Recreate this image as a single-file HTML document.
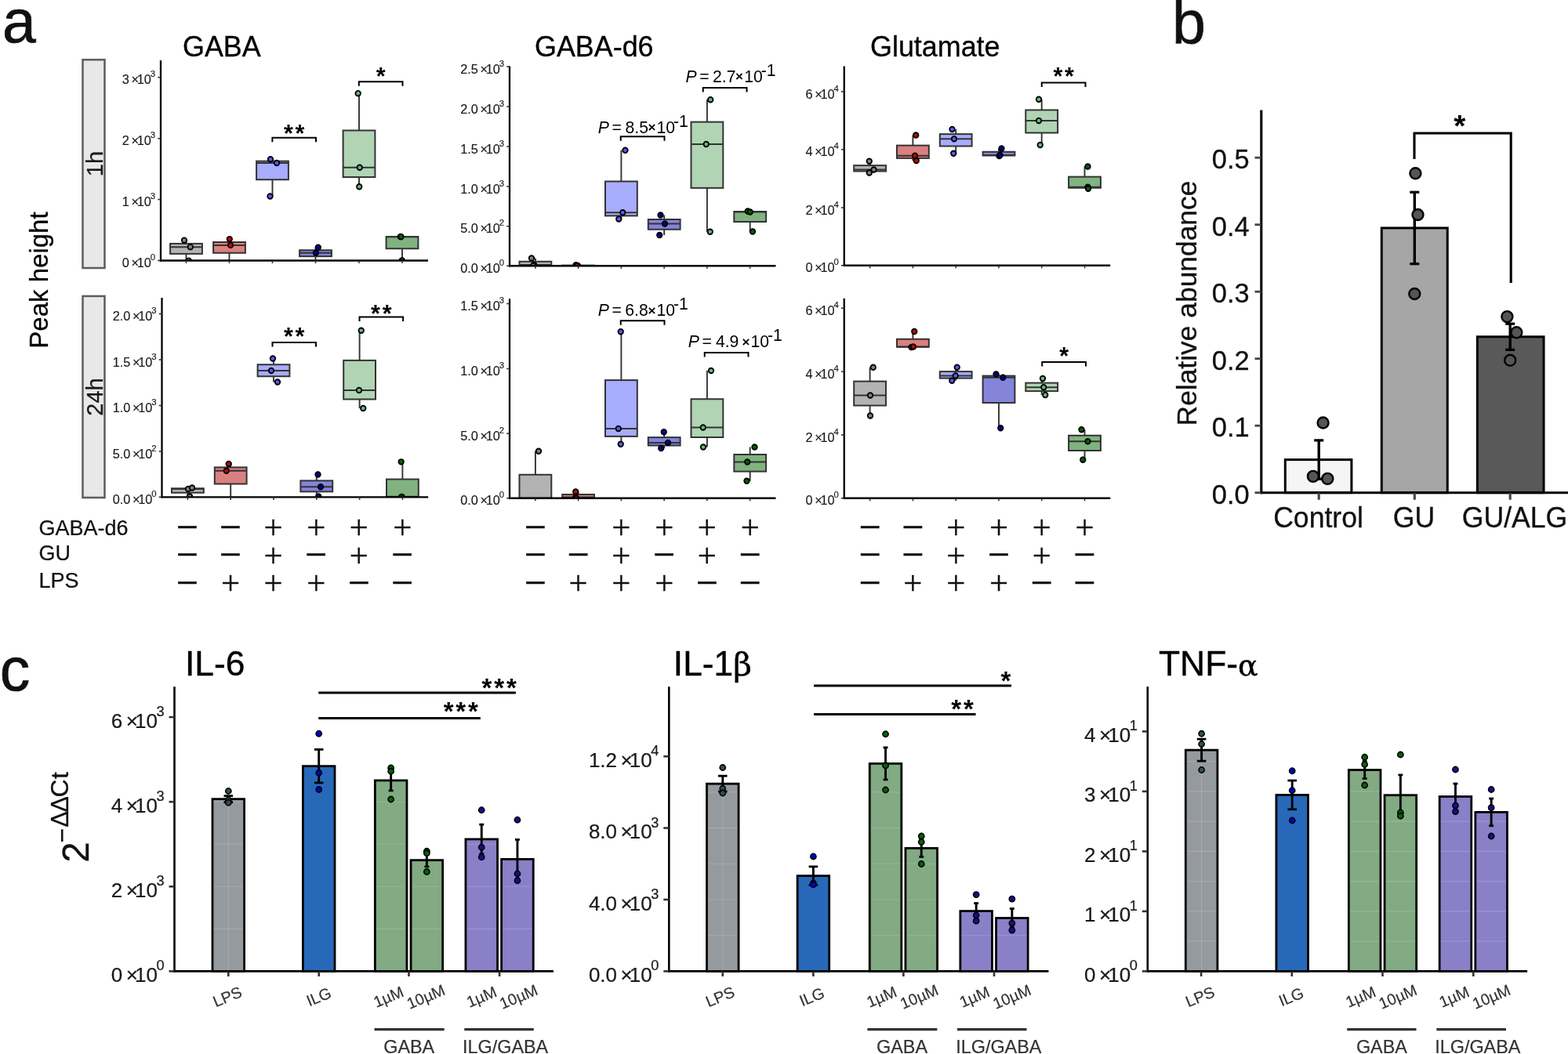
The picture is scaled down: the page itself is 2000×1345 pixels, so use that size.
<!DOCTYPE html><html><head><meta charset="utf-8"><style>html,body{margin:0;padding:0;background:#fff;}svg{display:block;}</style></head><body><svg width="2000" height="1345" viewBox="0 0 2000 1345" font-family="'Liberation Sans', Arial, sans-serif"><defs><clipPath id="c1"><rect x="205" y="37" width="341" height="295.5"/></clipPath><clipPath id="c2"><rect x="206.5" y="340" width="339.7" height="294.3"/></clipPath><clipPath id="c3"><rect x="650" y="44.5" width="339.5" height="294.75"/></clipPath><clipPath id="c4"><rect x="650" y="341.25" width="339.5" height="294.5"/></clipPath><clipPath id="c5"><rect x="1076.75" y="44.5" width="339.5" height="294.25"/></clipPath><clipPath id="c6"><rect x="1076.75" y="340.75" width="339.5" height="295"/></clipPath></defs><rect width="2000" height="1345" fill="#fff"/><g clip-path="url(#c1)"><line x1="237.5" y1="306.6" x2="237.5" y2="310.9" stroke="#333" stroke-width="1.9" stroke-linecap="butt"/><line x1="237.5" y1="323.9" x2="237.5" y2="332.6" stroke="#333" stroke-width="1.9" stroke-linecap="butt"/><rect x="217.1" y="310.9" width="40.8" height="13" fill="#b3b3b3" stroke="#333" stroke-width="2"/><line x1="217.1" y1="315.2" x2="257.9" y2="315.2" stroke="#333" stroke-width="2" stroke-linecap="butt"/><line x1="292.5" y1="305.1" x2="292.5" y2="309" stroke="#333" stroke-width="1.9" stroke-linecap="butt"/><line x1="292.5" y1="322.75" x2="292.5" y2="332.6" stroke="#333" stroke-width="1.9" stroke-linecap="butt"/><rect x="272.1" y="309" width="40.8" height="13.75" fill="#db8080" stroke="#333" stroke-width="2"/><line x1="272.1" y1="312.9" x2="312.9" y2="312.9" stroke="#333" stroke-width="2" stroke-linecap="butt"/><line x1="347.5" y1="203.25" x2="347.5" y2="205.62" stroke="#333" stroke-width="1.9" stroke-linecap="butt"/><line x1="347.5" y1="229.25" x2="347.5" y2="250.5" stroke="#333" stroke-width="1.9" stroke-linecap="butt"/><rect x="327.1" y="205.62" width="40.8" height="23.62" fill="#a8acfc" stroke="#333" stroke-width="2"/><line x1="327.1" y1="208" x2="367.9" y2="208" stroke="#333" stroke-width="2" stroke-linecap="butt"/><line x1="402.5" y1="315.7" x2="402.5" y2="319.25" stroke="#333" stroke-width="1.9" stroke-linecap="butt"/><line x1="402.5" y1="327.15" x2="402.5" y2="331.5" stroke="#333" stroke-width="1.9" stroke-linecap="butt"/><rect x="382.1" y="319.25" width="40.8" height="7.9" fill="#8484da" stroke="#333" stroke-width="2"/><line x1="382.1" y1="322.8" x2="422.9" y2="322.8" stroke="#333" stroke-width="2" stroke-linecap="butt"/><line x1="458" y1="119.2" x2="458" y2="166.47" stroke="#333" stroke-width="1.9" stroke-linecap="butt"/><line x1="458" y1="226" x2="458" y2="238.25" stroke="#333" stroke-width="1.9" stroke-linecap="butt"/><rect x="437.6" y="166.47" width="40.8" height="59.53" fill="#b0d4b4" stroke="#333" stroke-width="2"/><line x1="437.6" y1="213.75" x2="478.4" y2="213.75" stroke="#333" stroke-width="2" stroke-linecap="butt"/><line x1="513" y1="302" x2="513" y2="302.1" stroke="#333" stroke-width="1.9" stroke-linecap="butt"/><line x1="513" y1="317.25" x2="513" y2="332.3" stroke="#333" stroke-width="1.9" stroke-linecap="butt"/><rect x="492.6" y="302.1" width="40.8" height="15.15" fill="#80b380" stroke="#333" stroke-width="2"/><line x1="492.6" y1="302.2" x2="533.4" y2="302.2" stroke="#333" stroke-width="2" stroke-linecap="butt"/><circle cx="235" cy="306.6" r="3.25" fill="#808080" stroke="#000" stroke-width="1.8"/><circle cx="242.8" cy="315.2" r="3.25" fill="#808080" stroke="#000" stroke-width="1.8"/><circle cx="240.8" cy="332.6" r="3.25" fill="#808080" stroke="#000" stroke-width="1.8"/><circle cx="292.8" cy="305.1" r="3.25" fill="#cc0000" stroke="#000" stroke-width="1.8"/><circle cx="294" cy="312.9" r="3.25" fill="#cc0000" stroke="#000" stroke-width="1.8"/><circle cx="345" cy="203.25" r="3.25" fill="#555aff" stroke="#000" stroke-width="1.8"/><circle cx="353" cy="208" r="3.25" fill="#555aff" stroke="#000" stroke-width="1.8"/><circle cx="344.5" cy="250.5" r="3.25" fill="#555aff" stroke="#000" stroke-width="1.8"/><circle cx="405.8" cy="315.7" r="3.25" fill="#0000a0" stroke="#000" stroke-width="1.8"/><circle cx="402.9" cy="322.8" r="3.25" fill="#0000a0" stroke="#000" stroke-width="1.8"/><circle cx="456.7" cy="119.2" r="3.25" fill="#64b978" stroke="#000" stroke-width="1.8"/><circle cx="458.75" cy="213.75" r="3.25" fill="#64b978" stroke="#000" stroke-width="1.8"/><circle cx="458.25" cy="238.25" r="3.25" fill="#64b978" stroke="#000" stroke-width="1.8"/><circle cx="510.8" cy="302" r="3.25" fill="#006400" stroke="#000" stroke-width="1.8"/><circle cx="511.5" cy="302.2" r="3.25" fill="#006400" stroke="#000" stroke-width="1.8"/><circle cx="512.8" cy="332.3" r="3.25" fill="#006400" stroke="#000" stroke-width="1.8"/></g><line x1="205" y1="77" x2="205" y2="333.65" stroke="#000" stroke-width="2.3" stroke-linecap="butt"/><line x1="203.85" y1="332.5" x2="546" y2="332.5" stroke="#000" stroke-width="2.3" stroke-linecap="butt"/><line x1="237.5" y1="332.5" x2="237.5" y2="336.1" stroke="#333" stroke-width="1.6" stroke-linecap="butt"/><line x1="292.5" y1="332.5" x2="292.5" y2="336.1" stroke="#333" stroke-width="1.6" stroke-linecap="butt"/><line x1="347.5" y1="332.5" x2="347.5" y2="336.1" stroke="#333" stroke-width="1.6" stroke-linecap="butt"/><line x1="402.5" y1="332.5" x2="402.5" y2="336.1" stroke="#333" stroke-width="1.6" stroke-linecap="butt"/><line x1="458" y1="332.5" x2="458" y2="336.1" stroke="#333" stroke-width="1.6" stroke-linecap="butt"/><line x1="513" y1="332.5" x2="513" y2="336.1" stroke="#333" stroke-width="1.6" stroke-linecap="butt"/><line x1="201.2" y1="98.75" x2="205" y2="98.75" stroke="#333" stroke-width="1.6" stroke-linecap="butt"/><text x="198.2" y="107.39" font-size="16.3" text-anchor="end" fill="#1a1a1a" stroke="#1a1a1a" stroke-width="0.15" >3<tspan dx="2.77">×</tspan><tspan dx="-2.44">10</tspan><tspan dx="-0.9" dy="-9.13" font-size="11.41">3</tspan></text><line x1="201.2" y1="176.75" x2="205" y2="176.75" stroke="#333" stroke-width="1.6" stroke-linecap="butt"/><text x="198.2" y="185.39" font-size="16.3" text-anchor="end" fill="#1a1a1a" stroke="#1a1a1a" stroke-width="0.15" >2<tspan dx="2.77">×</tspan><tspan dx="-2.44">10</tspan><tspan dx="-0.9" dy="-9.13" font-size="11.41">3</tspan></text><line x1="201.2" y1="254.5" x2="205" y2="254.5" stroke="#333" stroke-width="1.6" stroke-linecap="butt"/><text x="198.2" y="263.14" font-size="16.3" text-anchor="end" fill="#1a1a1a" stroke="#1a1a1a" stroke-width="0.15" >1<tspan dx="2.77">×</tspan><tspan dx="-2.44">10</tspan><tspan dx="-0.9" dy="-9.13" font-size="11.41">3</tspan></text><line x1="201.2" y1="332.5" x2="205" y2="332.5" stroke="#333" stroke-width="1.6" stroke-linecap="butt"/><text x="198.2" y="341.14" font-size="16.3" text-anchor="end" fill="#1a1a1a" stroke="#1a1a1a" stroke-width="0.15" >0<tspan dx="2.77">×</tspan><tspan dx="-2.44">10</tspan><tspan dx="-0.9" dy="-9.13" font-size="11.41">0</tspan></text><path d="M347.4,181.3 V175.8 H403 V181.3" stroke="#000" stroke-width="2" fill="none" stroke-linejoin="miter"/><text x="375.2" y="181.37" font-size="30.5" font-weight="bold" text-anchor="middle">*<tspan dx="2.68">*</tspan></text><path d="M457.8,109.7 V104.2 H513.5 V109.7" stroke="#000" stroke-width="2" fill="none" stroke-linejoin="miter"/><text x="485.65" y="108.47" font-size="30.5" font-weight="bold" text-anchor="middle">*</text><g clip-path="url(#c2)"><line x1="239.4" y1="622.5" x2="239.4" y2="623.25" stroke="#333" stroke-width="1.9" stroke-linecap="butt"/><line x1="239.4" y1="628.75" x2="239.4" y2="633.5" stroke="#333" stroke-width="1.9" stroke-linecap="butt"/><rect x="219" y="623.25" width="40.8" height="5.5" fill="#b3b3b3" stroke="#333" stroke-width="2"/><line x1="219" y1="624" x2="259.8" y2="624" stroke="#333" stroke-width="2" stroke-linecap="butt"/><line x1="294.2" y1="592" x2="294.2" y2="596.38" stroke="#333" stroke-width="1.9" stroke-linecap="butt"/><line x1="294.2" y1="617.52" x2="294.2" y2="634.3" stroke="#333" stroke-width="1.9" stroke-linecap="butt"/><rect x="273.8" y="596.38" width="40.8" height="21.15" fill="#db8080" stroke="#333" stroke-width="2"/><line x1="273.8" y1="600.75" x2="314.6" y2="600.75" stroke="#333" stroke-width="2" stroke-linecap="butt"/><line x1="349" y1="457.5" x2="349" y2="465.25" stroke="#333" stroke-width="1.9" stroke-linecap="butt"/><line x1="349" y1="480.25" x2="349" y2="487.5" stroke="#333" stroke-width="1.9" stroke-linecap="butt"/><rect x="328.6" y="465.25" width="40.8" height="15" fill="#a8acfc" stroke="#333" stroke-width="2"/><line x1="328.6" y1="473" x2="369.4" y2="473" stroke="#333" stroke-width="2" stroke-linecap="butt"/><line x1="403.8" y1="605.5" x2="403.8" y2="613.38" stroke="#333" stroke-width="1.9" stroke-linecap="butt"/><line x1="403.8" y1="627.38" x2="403.8" y2="633.5" stroke="#333" stroke-width="1.9" stroke-linecap="butt"/><rect x="383.4" y="613.38" width="40.8" height="14" fill="#8484da" stroke="#333" stroke-width="2"/><line x1="383.4" y1="621.25" x2="424.2" y2="621.25" stroke="#333" stroke-width="2" stroke-linecap="butt"/><line x1="458.6" y1="421.75" x2="458.6" y2="459.88" stroke="#333" stroke-width="1.9" stroke-linecap="butt"/><line x1="458.6" y1="509.5" x2="458.6" y2="521" stroke="#333" stroke-width="1.9" stroke-linecap="butt"/><rect x="438.2" y="459.88" width="40.8" height="49.62" fill="#b0d4b4" stroke="#333" stroke-width="2"/><line x1="438.2" y1="498" x2="479" y2="498" stroke="#333" stroke-width="2" stroke-linecap="butt"/><line x1="513.4" y1="589.3" x2="513.4" y2="611.55" stroke="#333" stroke-width="1.9" stroke-linecap="butt"/><line x1="513.4" y1="634.15" x2="513.4" y2="634.5" stroke="#333" stroke-width="1.9" stroke-linecap="butt"/><rect x="493" y="611.55" width="40.8" height="22.6" fill="#80b380" stroke="#333" stroke-width="2"/><line x1="493" y1="633.8" x2="533.8" y2="633.8" stroke="#333" stroke-width="2" stroke-linecap="butt"/><circle cx="240" cy="624" r="3.25" fill="#808080" stroke="#000" stroke-width="1.8"/><circle cx="245" cy="622.5" r="3.25" fill="#808080" stroke="#000" stroke-width="1.8"/><circle cx="242" cy="633.5" r="3.25" fill="#808080" stroke="#000" stroke-width="1.8"/><circle cx="291.75" cy="592" r="3.25" fill="#cc0000" stroke="#000" stroke-width="1.8"/><circle cx="288.75" cy="600.75" r="3.25" fill="#cc0000" stroke="#000" stroke-width="1.8"/><circle cx="348" cy="457.5" r="3.25" fill="#555aff" stroke="#000" stroke-width="1.8"/><circle cx="346" cy="473" r="3.25" fill="#555aff" stroke="#000" stroke-width="1.8"/><circle cx="354" cy="487.5" r="3.25" fill="#555aff" stroke="#000" stroke-width="1.8"/><circle cx="405.5" cy="605.5" r="3.25" fill="#0000a0" stroke="#000" stroke-width="1.8"/><circle cx="409" cy="621.25" r="3.25" fill="#0000a0" stroke="#000" stroke-width="1.8"/><circle cx="406.25" cy="633.5" r="3.25" fill="#0000a0" stroke="#000" stroke-width="1.8"/><circle cx="460.75" cy="421.75" r="3.25" fill="#64b978" stroke="#000" stroke-width="1.8"/><circle cx="458" cy="498" r="3.25" fill="#64b978" stroke="#000" stroke-width="1.8"/><circle cx="463.25" cy="521" r="3.25" fill="#64b978" stroke="#000" stroke-width="1.8"/><circle cx="511.7" cy="589.3" r="3.25" fill="#006400" stroke="#000" stroke-width="1.8"/><circle cx="512.4" cy="633.8" r="3.25" fill="#006400" stroke="#000" stroke-width="1.8"/><circle cx="512" cy="634.5" r="3.25" fill="#006400" stroke="#000" stroke-width="1.8"/></g><line x1="206.5" y1="380" x2="206.5" y2="635.45" stroke="#000" stroke-width="2.3" stroke-linecap="butt"/><line x1="205.35" y1="634.3" x2="546.2" y2="634.3" stroke="#000" stroke-width="2.3" stroke-linecap="butt"/><line x1="239.4" y1="634.3" x2="239.4" y2="637.9" stroke="#333" stroke-width="1.6" stroke-linecap="butt"/><line x1="294.2" y1="634.3" x2="294.2" y2="637.9" stroke="#333" stroke-width="1.6" stroke-linecap="butt"/><line x1="349" y1="634.3" x2="349" y2="637.9" stroke="#333" stroke-width="1.6" stroke-linecap="butt"/><line x1="403.8" y1="634.3" x2="403.8" y2="637.9" stroke="#333" stroke-width="1.6" stroke-linecap="butt"/><line x1="458.6" y1="634.3" x2="458.6" y2="637.9" stroke="#333" stroke-width="1.6" stroke-linecap="butt"/><line x1="513.4" y1="634.3" x2="513.4" y2="637.9" stroke="#333" stroke-width="1.6" stroke-linecap="butt"/><line x1="202.7" y1="400.5" x2="206.5" y2="400.5" stroke="#333" stroke-width="1.6" stroke-linecap="butt"/><text x="199.7" y="409.14" font-size="16.3" text-anchor="end" fill="#1a1a1a" stroke="#1a1a1a" stroke-width="0.15" >2.0<tspan dx="2.77">×</tspan><tspan dx="-2.44">10</tspan><tspan dx="-0.9" dy="-9.13" font-size="11.41">3</tspan></text><line x1="202.7" y1="459" x2="206.5" y2="459" stroke="#333" stroke-width="1.6" stroke-linecap="butt"/><text x="199.7" y="467.64" font-size="16.3" text-anchor="end" fill="#1a1a1a" stroke="#1a1a1a" stroke-width="0.15" >1.5<tspan dx="2.77">×</tspan><tspan dx="-2.44">10</tspan><tspan dx="-0.9" dy="-9.13" font-size="11.41">3</tspan></text><line x1="202.7" y1="517.5" x2="206.5" y2="517.5" stroke="#333" stroke-width="1.6" stroke-linecap="butt"/><text x="199.7" y="526.14" font-size="16.3" text-anchor="end" fill="#1a1a1a" stroke="#1a1a1a" stroke-width="0.15" >1.0<tspan dx="2.77">×</tspan><tspan dx="-2.44">10</tspan><tspan dx="-0.9" dy="-9.13" font-size="11.41">3</tspan></text><line x1="202.7" y1="576" x2="206.5" y2="576" stroke="#333" stroke-width="1.6" stroke-linecap="butt"/><text x="199.7" y="584.64" font-size="16.3" text-anchor="end" fill="#1a1a1a" stroke="#1a1a1a" stroke-width="0.15" >5.0<tspan dx="2.77">×</tspan><tspan dx="-2.44">10</tspan><tspan dx="-0.9" dy="-9.13" font-size="11.41">2</tspan></text><line x1="202.7" y1="634.3" x2="206.5" y2="634.3" stroke="#333" stroke-width="1.6" stroke-linecap="butt"/><text x="199.7" y="642.94" font-size="16.3" text-anchor="end" fill="#1a1a1a" stroke="#1a1a1a" stroke-width="0.15" >0.0<tspan dx="2.77">×</tspan><tspan dx="-2.44">10</tspan><tspan dx="-0.9" dy="-9.13" font-size="11.41">0</tspan></text><path d="M347.5,442.5 V437 H403 V442.5" stroke="#000" stroke-width="2" fill="none" stroke-linejoin="miter"/><text x="375.25" y="440.17" font-size="30.5" font-weight="bold" text-anchor="middle">*<tspan dx="2.68">*</tspan></text><path d="M458.5,410 V404.5 H514.1 V410" stroke="#000" stroke-width="2" fill="none" stroke-linejoin="miter"/><text x="486.3" y="410.97" font-size="30.5" font-weight="bold" text-anchor="middle">*<tspan dx="2.68">*</tspan></text><g clip-path="url(#c3)"><line x1="682.9" y1="329.5" x2="682.9" y2="333.75" stroke="#333" stroke-width="1.9" stroke-linecap="butt"/><line x1="682.9" y1="338.6" x2="682.9" y2="339.2" stroke="#333" stroke-width="1.9" stroke-linecap="butt"/><rect x="662.5" y="333.75" width="40.8" height="4.85" fill="#b3b3b3" stroke="#333" stroke-width="2"/><line x1="662.5" y1="338" x2="703.3" y2="338" stroke="#333" stroke-width="2" stroke-linecap="butt"/><line x1="737.6" y1="338.25" x2="737.6" y2="338.62" stroke="#333" stroke-width="1.9" stroke-linecap="butt"/><line x1="737.6" y1="339.1" x2="737.6" y2="339.2" stroke="#333" stroke-width="1.9" stroke-linecap="butt"/><rect x="717.2" y="338.62" width="40.8" height="0.48" fill="#db8080" stroke="#333" stroke-width="2"/><line x1="717.2" y1="339" x2="758" y2="339" stroke="#333" stroke-width="2" stroke-linecap="butt"/><line x1="792.4" y1="191.75" x2="792.4" y2="231.5" stroke="#333" stroke-width="1.9" stroke-linecap="butt"/><line x1="792.4" y1="275.38" x2="792.4" y2="279.5" stroke="#333" stroke-width="1.9" stroke-linecap="butt"/><rect x="772" y="231.5" width="40.8" height="43.88" fill="#a8acfc" stroke="#333" stroke-width="2"/><line x1="772" y1="271.25" x2="812.8" y2="271.25" stroke="#333" stroke-width="2" stroke-linecap="butt"/><line x1="847.2" y1="274.5" x2="847.2" y2="280" stroke="#333" stroke-width="1.9" stroke-linecap="butt"/><line x1="847.2" y1="292.75" x2="847.2" y2="300" stroke="#333" stroke-width="1.9" stroke-linecap="butt"/><rect x="826.8" y="280" width="40.8" height="12.75" fill="#8484da" stroke="#333" stroke-width="2"/><line x1="826.8" y1="285.5" x2="867.6" y2="285.5" stroke="#333" stroke-width="2" stroke-linecap="butt"/><line x1="901.9" y1="127.25" x2="901.9" y2="155.62" stroke="#333" stroke-width="1.9" stroke-linecap="butt"/><line x1="901.9" y1="239.88" x2="901.9" y2="295.75" stroke="#333" stroke-width="1.9" stroke-linecap="butt"/><rect x="881.5" y="155.62" width="40.8" height="84.25" fill="#b0d4b4" stroke="#333" stroke-width="2"/><line x1="881.5" y1="184" x2="922.3" y2="184" stroke="#333" stroke-width="2" stroke-linecap="butt"/><line x1="956.7" y1="269.5" x2="956.7" y2="270" stroke="#333" stroke-width="1.9" stroke-linecap="butt"/><line x1="956.7" y1="283" x2="956.7" y2="295.5" stroke="#333" stroke-width="1.9" stroke-linecap="butt"/><rect x="936.3" y="270" width="40.8" height="13" fill="#80b380" stroke="#333" stroke-width="2"/><line x1="936.3" y1="270.5" x2="977.1" y2="270.5" stroke="#333" stroke-width="2" stroke-linecap="butt"/><circle cx="678" cy="329.5" r="3.25" fill="#808080" stroke="#000" stroke-width="1.8"/><circle cx="681.25" cy="338" r="3.25" fill="#808080" stroke="#000" stroke-width="1.8"/><circle cx="680" cy="339.2" r="3.25" fill="#808080" stroke="#000" stroke-width="1.8"/><circle cx="734.5" cy="338.25" r="3.25" fill="#cc0000" stroke="#000" stroke-width="1.8"/><circle cx="737" cy="339" r="3.25" fill="#cc0000" stroke="#000" stroke-width="1.8"/><circle cx="736" cy="339.2" r="3.25" fill="#cc0000" stroke="#000" stroke-width="1.8"/><circle cx="797.5" cy="191.75" r="3.25" fill="#555aff" stroke="#000" stroke-width="1.8"/><circle cx="794.25" cy="271.25" r="3.25" fill="#555aff" stroke="#000" stroke-width="1.8"/><circle cx="789.25" cy="279.5" r="3.25" fill="#555aff" stroke="#000" stroke-width="1.8"/><circle cx="842.5" cy="274.5" r="3.25" fill="#0000a0" stroke="#000" stroke-width="1.8"/><circle cx="848" cy="285.5" r="3.25" fill="#0000a0" stroke="#000" stroke-width="1.8"/><circle cx="841.25" cy="300" r="3.25" fill="#0000a0" stroke="#000" stroke-width="1.8"/><circle cx="906.25" cy="127.25" r="3.25" fill="#64b978" stroke="#000" stroke-width="1.8"/><circle cx="900.75" cy="184" r="3.25" fill="#64b978" stroke="#000" stroke-width="1.8"/><circle cx="905.75" cy="295.75" r="3.25" fill="#64b978" stroke="#000" stroke-width="1.8"/><circle cx="953.75" cy="269.5" r="3.25" fill="#006400" stroke="#000" stroke-width="1.8"/><circle cx="956.75" cy="270.5" r="3.25" fill="#006400" stroke="#000" stroke-width="1.8"/><circle cx="960" cy="295.5" r="3.25" fill="#006400" stroke="#000" stroke-width="1.8"/></g><line x1="650" y1="84.5" x2="650" y2="340.4" stroke="#000" stroke-width="2.3" stroke-linecap="butt"/><line x1="648.85" y1="339.25" x2="989.5" y2="339.25" stroke="#000" stroke-width="2.3" stroke-linecap="butt"/><line x1="682.9" y1="339.25" x2="682.9" y2="342.85" stroke="#333" stroke-width="1.6" stroke-linecap="butt"/><line x1="737.6" y1="339.25" x2="737.6" y2="342.85" stroke="#333" stroke-width="1.6" stroke-linecap="butt"/><line x1="792.4" y1="339.25" x2="792.4" y2="342.85" stroke="#333" stroke-width="1.6" stroke-linecap="butt"/><line x1="847.2" y1="339.25" x2="847.2" y2="342.85" stroke="#333" stroke-width="1.6" stroke-linecap="butt"/><line x1="901.9" y1="339.25" x2="901.9" y2="342.85" stroke="#333" stroke-width="1.6" stroke-linecap="butt"/><line x1="956.7" y1="339.25" x2="956.7" y2="342.85" stroke="#333" stroke-width="1.6" stroke-linecap="butt"/><line x1="646.2" y1="85" x2="650" y2="85" stroke="#333" stroke-width="1.6" stroke-linecap="butt"/><text x="643.2" y="93.64" font-size="16.3" text-anchor="end" fill="#1a1a1a" stroke="#1a1a1a" stroke-width="0.15" >2.5<tspan dx="2.77">×</tspan><tspan dx="-2.44">10</tspan><tspan dx="-0.9" dy="-9.13" font-size="11.41">3</tspan></text><line x1="646.2" y1="136" x2="650" y2="136" stroke="#333" stroke-width="1.6" stroke-linecap="butt"/><text x="643.2" y="144.64" font-size="16.3" text-anchor="end" fill="#1a1a1a" stroke="#1a1a1a" stroke-width="0.15" >2.0<tspan dx="2.77">×</tspan><tspan dx="-2.44">10</tspan><tspan dx="-0.9" dy="-9.13" font-size="11.41">3</tspan></text><line x1="646.2" y1="187" x2="650" y2="187" stroke="#333" stroke-width="1.6" stroke-linecap="butt"/><text x="643.2" y="195.64" font-size="16.3" text-anchor="end" fill="#1a1a1a" stroke="#1a1a1a" stroke-width="0.15" >1.5<tspan dx="2.77">×</tspan><tspan dx="-2.44">10</tspan><tspan dx="-0.9" dy="-9.13" font-size="11.41">3</tspan></text><line x1="646.2" y1="238" x2="650" y2="238" stroke="#333" stroke-width="1.6" stroke-linecap="butt"/><text x="643.2" y="246.64" font-size="16.3" text-anchor="end" fill="#1a1a1a" stroke="#1a1a1a" stroke-width="0.15" >1.0<tspan dx="2.77">×</tspan><tspan dx="-2.44">10</tspan><tspan dx="-0.9" dy="-9.13" font-size="11.41">3</tspan></text><line x1="646.2" y1="288.75" x2="650" y2="288.75" stroke="#333" stroke-width="1.6" stroke-linecap="butt"/><text x="643.2" y="297.39" font-size="16.3" text-anchor="end" fill="#1a1a1a" stroke="#1a1a1a" stroke-width="0.15" >5.0<tspan dx="2.77">×</tspan><tspan dx="-2.44">10</tspan><tspan dx="-0.9" dy="-9.13" font-size="11.41">2</tspan></text><line x1="646.2" y1="339.25" x2="650" y2="339.25" stroke="#333" stroke-width="1.6" stroke-linecap="butt"/><text x="643.2" y="347.89" font-size="16.3" text-anchor="end" fill="#1a1a1a" stroke="#1a1a1a" stroke-width="0.15" >0.0<tspan dx="2.77">×</tspan><tspan dx="-2.44">10</tspan><tspan dx="-0.9" dy="-9.13" font-size="11.41">0</tspan></text><path d="M791.75,179.8 V174.3 H847.5 V179.8" stroke="#000" stroke-width="2" fill="none" stroke-linejoin="miter"/><text><tspan x="762.84" y="169.7" font-size="21.2" font-style="italic">P</tspan><tspan x="780.46" y="169.7" font-size="21.2" >=</tspan><tspan x="797.49" y="169.7" font-size="21.2" >8.5</tspan><tspan x="826.39" y="168.1" font-size="17" font-weight="bold">×</tspan><tspan x="837.59" y="169.7" font-size="21.2" >10</tspan><tspan x="858.97" y="161.8" font-size="21.2" >-</tspan><tspan x="866.09" y="161.8" font-size="21.2" >1</tspan></text><path d="M896.75,117.5 V112 H952.5 V117.5" stroke="#000" stroke-width="2" fill="none" stroke-linejoin="miter"/><text><tspan x="874.54" y="104.7" font-size="21.2" font-style="italic">P</tspan><tspan x="892.16" y="104.7" font-size="21.2" >=</tspan><tspan x="909.04" y="104.7" font-size="21.2" >2.7</tspan><tspan x="938.09" y="103.1" font-size="17" font-weight="bold">×</tspan><tspan x="949.29" y="104.7" font-size="21.2" >10</tspan><tspan x="970.67" y="96.8" font-size="21.2" >-</tspan><tspan x="977.79" y="96.8" font-size="21.2" >1</tspan></text><g clip-path="url(#c4)"><line x1="682.9" y1="575.75" x2="682.9" y2="605.75" stroke="#333" stroke-width="1.9" stroke-linecap="butt"/><line x1="682.9" y1="635.83" x2="682.9" y2="635.9" stroke="#333" stroke-width="1.9" stroke-linecap="butt"/><rect x="662.5" y="605.75" width="40.8" height="30.08" fill="#b3b3b3" stroke="#333" stroke-width="2"/><line x1="662.5" y1="635.75" x2="703.3" y2="635.75" stroke="#333" stroke-width="2" stroke-linecap="butt"/><line x1="737.6" y1="627.5" x2="737.6" y2="631" stroke="#333" stroke-width="1.9" stroke-linecap="butt"/><line x1="737.6" y1="635.2" x2="737.6" y2="635.9" stroke="#333" stroke-width="1.9" stroke-linecap="butt"/><rect x="717.2" y="631" width="40.8" height="4.2" fill="#db8080" stroke="#333" stroke-width="2"/><line x1="717.2" y1="634.5" x2="758" y2="634.5" stroke="#333" stroke-width="2" stroke-linecap="butt"/><line x1="792.4" y1="423.25" x2="792.4" y2="485.12" stroke="#333" stroke-width="1.9" stroke-linecap="butt"/><line x1="792.4" y1="556.88" x2="792.4" y2="566.75" stroke="#333" stroke-width="1.9" stroke-linecap="butt"/><rect x="772" y="485.12" width="40.8" height="71.75" fill="#a8acfc" stroke="#333" stroke-width="2"/><line x1="772" y1="547" x2="812.8" y2="547" stroke="#333" stroke-width="2" stroke-linecap="butt"/><line x1="847.2" y1="551.25" x2="847.2" y2="558.12" stroke="#333" stroke-width="1.9" stroke-linecap="butt"/><line x1="847.2" y1="568.5" x2="847.2" y2="572" stroke="#333" stroke-width="1.9" stroke-linecap="butt"/><rect x="826.8" y="558.12" width="40.8" height="10.38" fill="#8484da" stroke="#333" stroke-width="2"/><line x1="826.8" y1="565" x2="867.6" y2="565" stroke="#333" stroke-width="2" stroke-linecap="butt"/><line x1="901.9" y1="473" x2="901.9" y2="509.25" stroke="#333" stroke-width="1.9" stroke-linecap="butt"/><line x1="901.9" y1="558" x2="901.9" y2="570.5" stroke="#333" stroke-width="1.9" stroke-linecap="butt"/><rect x="881.5" y="509.25" width="40.8" height="48.75" fill="#b0d4b4" stroke="#333" stroke-width="2"/><line x1="881.5" y1="545.5" x2="922.3" y2="545.5" stroke="#333" stroke-width="2" stroke-linecap="butt"/><line x1="956.7" y1="570.5" x2="956.7" y2="580" stroke="#333" stroke-width="1.9" stroke-linecap="butt"/><line x1="956.7" y1="601.62" x2="956.7" y2="613.75" stroke="#333" stroke-width="1.9" stroke-linecap="butt"/><rect x="936.3" y="580" width="40.8" height="21.62" fill="#80b380" stroke="#333" stroke-width="2"/><line x1="936.3" y1="589.5" x2="977.1" y2="589.5" stroke="#333" stroke-width="2" stroke-linecap="butt"/><circle cx="687" cy="575.75" r="3.25" fill="#808080" stroke="#000" stroke-width="1.8"/><circle cx="734.25" cy="627.5" r="3.25" fill="#cc0000" stroke="#000" stroke-width="1.8"/><circle cx="734.25" cy="634.5" r="3.25" fill="#cc0000" stroke="#000" stroke-width="1.8"/><circle cx="735" cy="635.9" r="3.25" fill="#cc0000" stroke="#000" stroke-width="1.8"/><circle cx="791.75" cy="423.25" r="3.25" fill="#555aff" stroke="#000" stroke-width="1.8"/><circle cx="788.75" cy="547" r="3.25" fill="#555aff" stroke="#000" stroke-width="1.8"/><circle cx="791.75" cy="566.75" r="3.25" fill="#555aff" stroke="#000" stroke-width="1.8"/><circle cx="846.75" cy="551.25" r="3.25" fill="#0000a0" stroke="#000" stroke-width="1.8"/><circle cx="852" cy="565" r="3.25" fill="#0000a0" stroke="#000" stroke-width="1.8"/><circle cx="843.25" cy="572" r="3.25" fill="#0000a0" stroke="#000" stroke-width="1.8"/><circle cx="907" cy="473" r="3.25" fill="#64b978" stroke="#000" stroke-width="1.8"/><circle cx="896.75" cy="545.5" r="3.25" fill="#64b978" stroke="#000" stroke-width="1.8"/><circle cx="897" cy="570.5" r="3.25" fill="#64b978" stroke="#000" stroke-width="1.8"/><circle cx="962.5" cy="570.5" r="3.25" fill="#006400" stroke="#000" stroke-width="1.8"/><circle cx="953.25" cy="589.5" r="3.25" fill="#006400" stroke="#000" stroke-width="1.8"/><circle cx="952.5" cy="613.75" r="3.25" fill="#006400" stroke="#000" stroke-width="1.8"/></g><line x1="650" y1="381.25" x2="650" y2="636.9" stroke="#000" stroke-width="2.3" stroke-linecap="butt"/><line x1="648.85" y1="635.75" x2="989.5" y2="635.75" stroke="#000" stroke-width="2.3" stroke-linecap="butt"/><line x1="682.9" y1="635.75" x2="682.9" y2="639.35" stroke="#333" stroke-width="1.6" stroke-linecap="butt"/><line x1="737.6" y1="635.75" x2="737.6" y2="639.35" stroke="#333" stroke-width="1.6" stroke-linecap="butt"/><line x1="792.4" y1="635.75" x2="792.4" y2="639.35" stroke="#333" stroke-width="1.6" stroke-linecap="butt"/><line x1="847.2" y1="635.75" x2="847.2" y2="639.35" stroke="#333" stroke-width="1.6" stroke-linecap="butt"/><line x1="901.9" y1="635.75" x2="901.9" y2="639.35" stroke="#333" stroke-width="1.6" stroke-linecap="butt"/><line x1="956.7" y1="635.75" x2="956.7" y2="639.35" stroke="#333" stroke-width="1.6" stroke-linecap="butt"/><line x1="646.2" y1="387.5" x2="650" y2="387.5" stroke="#333" stroke-width="1.6" stroke-linecap="butt"/><text x="643.2" y="396.14" font-size="16.3" text-anchor="end" fill="#1a1a1a" stroke="#1a1a1a" stroke-width="0.15" >1.5<tspan dx="2.77">×</tspan><tspan dx="-2.44">10</tspan><tspan dx="-0.9" dy="-9.13" font-size="11.41">3</tspan></text><line x1="646.2" y1="470.5" x2="650" y2="470.5" stroke="#333" stroke-width="1.6" stroke-linecap="butt"/><text x="643.2" y="479.14" font-size="16.3" text-anchor="end" fill="#1a1a1a" stroke="#1a1a1a" stroke-width="0.15" >1.0<tspan dx="2.77">×</tspan><tspan dx="-2.44">10</tspan><tspan dx="-0.9" dy="-9.13" font-size="11.41">3</tspan></text><line x1="646.2" y1="553.25" x2="650" y2="553.25" stroke="#333" stroke-width="1.6" stroke-linecap="butt"/><text x="643.2" y="561.89" font-size="16.3" text-anchor="end" fill="#1a1a1a" stroke="#1a1a1a" stroke-width="0.15" >5.0<tspan dx="2.77">×</tspan><tspan dx="-2.44">10</tspan><tspan dx="-0.9" dy="-9.13" font-size="11.41">2</tspan></text><line x1="646.2" y1="635.75" x2="650" y2="635.75" stroke="#333" stroke-width="1.6" stroke-linecap="butt"/><text x="643.2" y="644.39" font-size="16.3" text-anchor="end" fill="#1a1a1a" stroke="#1a1a1a" stroke-width="0.15" >0.0<tspan dx="2.77">×</tspan><tspan dx="-2.44">10</tspan><tspan dx="-0.9" dy="-9.13" font-size="11.41">0</tspan></text><path d="M791.75,414.75 V409.25 H847.5 V414.75" stroke="#000" stroke-width="2" fill="none" stroke-linejoin="miter"/><text><tspan x="762.84" y="403.3" font-size="21.2" font-style="italic">P</tspan><tspan x="780.46" y="403.3" font-size="21.2" >=</tspan><tspan x="797.32" y="403.3" font-size="21.2" >6.8</tspan><tspan x="826.39" y="401.7" font-size="17" font-weight="bold">×</tspan><tspan x="837.59" y="403.3" font-size="21.2" >10</tspan><tspan x="858.97" y="395.4" font-size="21.2" >-</tspan><tspan x="866.09" y="395.4" font-size="21.2" >1</tspan></text><path d="M898.75,455.5 V450 H954.5 V455.5" stroke="#000" stroke-width="2" fill="none" stroke-linejoin="miter"/><text><tspan x="877.84" y="443.3" font-size="21.2" font-style="italic">P</tspan><tspan x="895.46" y="443.3" font-size="21.2" >=</tspan><tspan x="912.91" y="443.3" font-size="21.2" >4.9</tspan><tspan x="946.39" y="441.7" font-size="17" font-weight="bold">×</tspan><tspan x="957.59" y="443.3" font-size="21.2" >10</tspan><tspan x="978.97" y="435.4" font-size="21.2" >-</tspan><tspan x="986.09" y="435.4" font-size="21.2" >1</tspan></text><g clip-path="url(#c5)"><line x1="1109.6" y1="205.75" x2="1109.6" y2="211.12" stroke="#333" stroke-width="1.9" stroke-linecap="butt"/><line x1="1109.6" y1="218.5" x2="1109.6" y2="220.5" stroke="#333" stroke-width="1.9" stroke-linecap="butt"/><rect x="1089.2" y="211.12" width="40.8" height="7.38" fill="#b3b3b3" stroke="#333" stroke-width="2"/><line x1="1089.2" y1="216.5" x2="1130" y2="216.5" stroke="#333" stroke-width="2" stroke-linecap="butt"/><line x1="1164.4" y1="172.5" x2="1164.4" y2="185.62" stroke="#333" stroke-width="1.9" stroke-linecap="butt"/><line x1="1164.4" y1="201.88" x2="1164.4" y2="205" stroke="#333" stroke-width="1.9" stroke-linecap="butt"/><rect x="1144" y="185.62" width="40.8" height="16.25" fill="#db8080" stroke="#333" stroke-width="2"/><line x1="1144" y1="198.75" x2="1184.8" y2="198.75" stroke="#333" stroke-width="2" stroke-linecap="butt"/><line x1="1219.2" y1="165" x2="1219.2" y2="171.12" stroke="#333" stroke-width="1.9" stroke-linecap="butt"/><line x1="1219.2" y1="186.5" x2="1219.2" y2="195.75" stroke="#333" stroke-width="1.9" stroke-linecap="butt"/><rect x="1198.8" y="171.12" width="40.8" height="15.38" fill="#a8acfc" stroke="#333" stroke-width="2"/><line x1="1198.8" y1="177.25" x2="1239.6" y2="177.25" stroke="#333" stroke-width="2" stroke-linecap="butt"/><line x1="1274" y1="189.5" x2="1274" y2="193.75" stroke="#333" stroke-width="1.9" stroke-linecap="butt"/><line x1="1274" y1="198.5" x2="1274" y2="199" stroke="#333" stroke-width="1.9" stroke-linecap="butt"/><rect x="1253.6" y="193.75" width="40.8" height="4.75" fill="#8484da" stroke="#333" stroke-width="2"/><line x1="1253.6" y1="198" x2="1294.4" y2="198" stroke="#333" stroke-width="2" stroke-linecap="butt"/><line x1="1328.7" y1="126.75" x2="1328.7" y2="140.38" stroke="#333" stroke-width="1.9" stroke-linecap="butt"/><line x1="1328.7" y1="169.5" x2="1328.7" y2="185" stroke="#333" stroke-width="1.9" stroke-linecap="butt"/><rect x="1308.3" y="140.38" width="40.8" height="29.12" fill="#b0d4b4" stroke="#333" stroke-width="2"/><line x1="1308.3" y1="154" x2="1349.1" y2="154" stroke="#333" stroke-width="2" stroke-linecap="butt"/><line x1="1383.5" y1="212.5" x2="1383.5" y2="225.62" stroke="#333" stroke-width="1.9" stroke-linecap="butt"/><line x1="1383.5" y1="239.75" x2="1383.5" y2="240.75" stroke="#333" stroke-width="1.9" stroke-linecap="butt"/><rect x="1363.1" y="225.62" width="40.8" height="14.12" fill="#80b380" stroke="#333" stroke-width="2"/><line x1="1363.1" y1="238.75" x2="1403.9" y2="238.75" stroke="#333" stroke-width="2" stroke-linecap="butt"/><circle cx="1108.75" cy="205.75" r="3.25" fill="#808080" stroke="#000" stroke-width="1.8"/><circle cx="1114.5" cy="216.5" r="3.25" fill="#808080" stroke="#000" stroke-width="1.8"/><circle cx="1108.75" cy="220.5" r="3.25" fill="#808080" stroke="#000" stroke-width="1.8"/><circle cx="1168.25" cy="172.5" r="3.25" fill="#cc0000" stroke="#000" stroke-width="1.8"/><circle cx="1167" cy="198.75" r="3.25" fill="#cc0000" stroke="#000" stroke-width="1.8"/><circle cx="1168.75" cy="205" r="3.25" fill="#cc0000" stroke="#000" stroke-width="1.8"/><circle cx="1214.5" cy="165" r="3.25" fill="#555aff" stroke="#000" stroke-width="1.8"/><circle cx="1217" cy="177.25" r="3.25" fill="#555aff" stroke="#000" stroke-width="1.8"/><circle cx="1216.25" cy="195.75" r="3.25" fill="#555aff" stroke="#000" stroke-width="1.8"/><circle cx="1277.5" cy="189.5" r="3.25" fill="#0000a0" stroke="#000" stroke-width="1.8"/><circle cx="1274.5" cy="199" r="3.25" fill="#0000a0" stroke="#000" stroke-width="1.8"/><circle cx="1275.5" cy="198" r="3.25" fill="#0000a0" stroke="#000" stroke-width="1.8"/><circle cx="1325" cy="126.75" r="3.25" fill="#64b978" stroke="#000" stroke-width="1.8"/><circle cx="1325" cy="154" r="3.25" fill="#64b978" stroke="#000" stroke-width="1.8"/><circle cx="1326.75" cy="185" r="3.25" fill="#64b978" stroke="#000" stroke-width="1.8"/><circle cx="1387.5" cy="212.5" r="3.25" fill="#006400" stroke="#000" stroke-width="1.8"/><circle cx="1387.5" cy="238.75" r="3.25" fill="#006400" stroke="#000" stroke-width="1.8"/><circle cx="1388" cy="240.75" r="3.25" fill="#006400" stroke="#000" stroke-width="1.8"/></g><line x1="1076.75" y1="84.5" x2="1076.75" y2="339.9" stroke="#000" stroke-width="2.3" stroke-linecap="butt"/><line x1="1075.6" y1="338.75" x2="1416.25" y2="338.75" stroke="#000" stroke-width="2.3" stroke-linecap="butt"/><line x1="1109.6" y1="338.75" x2="1109.6" y2="342.35" stroke="#333" stroke-width="1.6" stroke-linecap="butt"/><line x1="1164.4" y1="338.75" x2="1164.4" y2="342.35" stroke="#333" stroke-width="1.6" stroke-linecap="butt"/><line x1="1219.2" y1="338.75" x2="1219.2" y2="342.35" stroke="#333" stroke-width="1.6" stroke-linecap="butt"/><line x1="1274" y1="338.75" x2="1274" y2="342.35" stroke="#333" stroke-width="1.6" stroke-linecap="butt"/><line x1="1328.7" y1="338.75" x2="1328.7" y2="342.35" stroke="#333" stroke-width="1.6" stroke-linecap="butt"/><line x1="1383.5" y1="338.75" x2="1383.5" y2="342.35" stroke="#333" stroke-width="1.6" stroke-linecap="butt"/><line x1="1072.95" y1="117" x2="1076.75" y2="117" stroke="#333" stroke-width="1.6" stroke-linecap="butt"/><text x="1069.95" y="125.64" font-size="16.3" text-anchor="end" fill="#1a1a1a" stroke="#1a1a1a" stroke-width="0.15" >6<tspan dx="2.77">×</tspan><tspan dx="-2.44">10</tspan><tspan dx="-0.9" dy="-9.13" font-size="11.41">4</tspan></text><line x1="1072.95" y1="190.75" x2="1076.75" y2="190.75" stroke="#333" stroke-width="1.6" stroke-linecap="butt"/><text x="1069.95" y="199.39" font-size="16.3" text-anchor="end" fill="#1a1a1a" stroke="#1a1a1a" stroke-width="0.15" >4<tspan dx="2.77">×</tspan><tspan dx="-2.44">10</tspan><tspan dx="-0.9" dy="-9.13" font-size="11.41">4</tspan></text><line x1="1072.95" y1="265" x2="1076.75" y2="265" stroke="#333" stroke-width="1.6" stroke-linecap="butt"/><text x="1069.95" y="273.64" font-size="16.3" text-anchor="end" fill="#1a1a1a" stroke="#1a1a1a" stroke-width="0.15" >2<tspan dx="2.77">×</tspan><tspan dx="-2.44">10</tspan><tspan dx="-0.9" dy="-9.13" font-size="11.41">4</tspan></text><line x1="1072.95" y1="338.75" x2="1076.75" y2="338.75" stroke="#333" stroke-width="1.6" stroke-linecap="butt"/><text x="1069.95" y="347.39" font-size="16.3" text-anchor="end" fill="#1a1a1a" stroke="#1a1a1a" stroke-width="0.15" >0<tspan dx="2.77">×</tspan><tspan dx="-2.44">10</tspan><tspan dx="-0.9" dy="-9.13" font-size="11.41">0</tspan></text><path d="M1328.75,111 V105.5 H1384.5 V111" stroke="#000" stroke-width="2" fill="none" stroke-linejoin="miter"/><text x="1356.62" y="108.42" font-size="30.5" font-weight="bold" text-anchor="middle">*<tspan dx="2.68">*</tspan></text><g clip-path="url(#c6)"><line x1="1109.6" y1="468.75" x2="1109.6" y2="486.62" stroke="#333" stroke-width="1.9" stroke-linecap="butt"/><line x1="1109.6" y1="517.5" x2="1109.6" y2="530.5" stroke="#333" stroke-width="1.9" stroke-linecap="butt"/><rect x="1089.2" y="486.62" width="40.8" height="30.88" fill="#b3b3b3" stroke="#333" stroke-width="2"/><line x1="1089.2" y1="504.5" x2="1130" y2="504.5" stroke="#333" stroke-width="2" stroke-linecap="butt"/><line x1="1164.4" y1="423" x2="1164.4" y2="432.75" stroke="#333" stroke-width="1.9" stroke-linecap="butt"/><line x1="1164.4" y1="442.75" x2="1164.4" y2="443" stroke="#333" stroke-width="1.9" stroke-linecap="butt"/><rect x="1144" y="432.75" width="40.8" height="10" fill="#db8080" stroke="#333" stroke-width="2"/><line x1="1144" y1="442.5" x2="1184.8" y2="442.5" stroke="#333" stroke-width="2" stroke-linecap="butt"/><line x1="1219.2" y1="468.75" x2="1219.2" y2="474.12" stroke="#333" stroke-width="1.9" stroke-linecap="butt"/><line x1="1219.2" y1="482.62" x2="1219.2" y2="485.75" stroke="#333" stroke-width="1.9" stroke-linecap="butt"/><rect x="1198.8" y="474.12" width="40.8" height="8.5" fill="#a8acfc" stroke="#333" stroke-width="2"/><line x1="1198.8" y1="479.5" x2="1239.6" y2="479.5" stroke="#333" stroke-width="2" stroke-linecap="butt"/><line x1="1274" y1="477.5" x2="1274" y2="479.62" stroke="#333" stroke-width="1.9" stroke-linecap="butt"/><line x1="1274" y1="514" x2="1274" y2="546.25" stroke="#333" stroke-width="1.9" stroke-linecap="butt"/><rect x="1253.6" y="479.62" width="40.8" height="34.38" fill="#8484da" stroke="#333" stroke-width="2"/><line x1="1253.6" y1="481.75" x2="1294.4" y2="481.75" stroke="#333" stroke-width="2" stroke-linecap="butt"/><line x1="1328.7" y1="483" x2="1328.7" y2="488.62" stroke="#333" stroke-width="1.9" stroke-linecap="butt"/><line x1="1328.7" y1="499.12" x2="1328.7" y2="504" stroke="#333" stroke-width="1.9" stroke-linecap="butt"/><rect x="1308.3" y="488.62" width="40.8" height="10.5" fill="#b0d4b4" stroke="#333" stroke-width="2"/><line x1="1308.3" y1="494.25" x2="1349.1" y2="494.25" stroke="#333" stroke-width="2" stroke-linecap="butt"/><line x1="1383.5" y1="548.25" x2="1383.5" y2="555.75" stroke="#333" stroke-width="1.9" stroke-linecap="butt"/><line x1="1383.5" y1="575" x2="1383.5" y2="586.75" stroke="#333" stroke-width="1.9" stroke-linecap="butt"/><rect x="1363.1" y="555.75" width="40.8" height="19.25" fill="#80b380" stroke="#333" stroke-width="2"/><line x1="1363.1" y1="563.25" x2="1403.9" y2="563.25" stroke="#333" stroke-width="2" stroke-linecap="butt"/><circle cx="1113.75" cy="468.75" r="3.25" fill="#808080" stroke="#000" stroke-width="1.8"/><circle cx="1110" cy="504.5" r="3.25" fill="#808080" stroke="#000" stroke-width="1.8"/><circle cx="1110" cy="530.5" r="3.25" fill="#808080" stroke="#000" stroke-width="1.8"/><circle cx="1166.25" cy="423" r="3.25" fill="#cc0000" stroke="#000" stroke-width="1.8"/><circle cx="1162.5" cy="443" r="3.25" fill="#cc0000" stroke="#000" stroke-width="1.8"/><circle cx="1165" cy="442.5" r="3.25" fill="#cc0000" stroke="#000" stroke-width="1.8"/><circle cx="1220.75" cy="468.75" r="3.25" fill="#555aff" stroke="#000" stroke-width="1.8"/><circle cx="1218.75" cy="479.5" r="3.25" fill="#555aff" stroke="#000" stroke-width="1.8"/><circle cx="1214.25" cy="485.75" r="3.25" fill="#555aff" stroke="#000" stroke-width="1.8"/><circle cx="1270.5" cy="477.5" r="3.25" fill="#0000a0" stroke="#000" stroke-width="1.8"/><circle cx="1279.25" cy="481.75" r="3.25" fill="#0000a0" stroke="#000" stroke-width="1.8"/><circle cx="1276.25" cy="546.25" r="3.25" fill="#0000a0" stroke="#000" stroke-width="1.8"/><circle cx="1330" cy="483" r="3.25" fill="#64b978" stroke="#000" stroke-width="1.8"/><circle cx="1331.25" cy="494.25" r="3.25" fill="#64b978" stroke="#000" stroke-width="1.8"/><circle cx="1333.25" cy="504" r="3.25" fill="#64b978" stroke="#000" stroke-width="1.8"/><circle cx="1379.5" cy="548.25" r="3.25" fill="#006400" stroke="#000" stroke-width="1.8"/><circle cx="1387.5" cy="563.25" r="3.25" fill="#006400" stroke="#000" stroke-width="1.8"/><circle cx="1381.25" cy="586.75" r="3.25" fill="#006400" stroke="#000" stroke-width="1.8"/></g><line x1="1076.75" y1="380.75" x2="1076.75" y2="636.9" stroke="#000" stroke-width="2.3" stroke-linecap="butt"/><line x1="1075.6" y1="635.75" x2="1416.25" y2="635.75" stroke="#000" stroke-width="2.3" stroke-linecap="butt"/><line x1="1109.6" y1="635.75" x2="1109.6" y2="639.35" stroke="#333" stroke-width="1.6" stroke-linecap="butt"/><line x1="1164.4" y1="635.75" x2="1164.4" y2="639.35" stroke="#333" stroke-width="1.6" stroke-linecap="butt"/><line x1="1219.2" y1="635.75" x2="1219.2" y2="639.35" stroke="#333" stroke-width="1.6" stroke-linecap="butt"/><line x1="1274" y1="635.75" x2="1274" y2="639.35" stroke="#333" stroke-width="1.6" stroke-linecap="butt"/><line x1="1328.7" y1="635.75" x2="1328.7" y2="639.35" stroke="#333" stroke-width="1.6" stroke-linecap="butt"/><line x1="1383.5" y1="635.75" x2="1383.5" y2="639.35" stroke="#333" stroke-width="1.6" stroke-linecap="butt"/><line x1="1072.95" y1="393.25" x2="1076.75" y2="393.25" stroke="#333" stroke-width="1.6" stroke-linecap="butt"/><text x="1069.95" y="401.89" font-size="16.3" text-anchor="end" fill="#1a1a1a" stroke="#1a1a1a" stroke-width="0.15" >6<tspan dx="2.77">×</tspan><tspan dx="-2.44">10</tspan><tspan dx="-0.9" dy="-9.13" font-size="11.41">4</tspan></text><line x1="1072.95" y1="474.25" x2="1076.75" y2="474.25" stroke="#333" stroke-width="1.6" stroke-linecap="butt"/><text x="1069.95" y="482.89" font-size="16.3" text-anchor="end" fill="#1a1a1a" stroke="#1a1a1a" stroke-width="0.15" >4<tspan dx="2.77">×</tspan><tspan dx="-2.44">10</tspan><tspan dx="-0.9" dy="-9.13" font-size="11.41">4</tspan></text><line x1="1072.95" y1="555" x2="1076.75" y2="555" stroke="#333" stroke-width="1.6" stroke-linecap="butt"/><text x="1069.95" y="563.64" font-size="16.3" text-anchor="end" fill="#1a1a1a" stroke="#1a1a1a" stroke-width="0.15" >2<tspan dx="2.77">×</tspan><tspan dx="-2.44">10</tspan><tspan dx="-0.9" dy="-9.13" font-size="11.41">4</tspan></text><line x1="1072.95" y1="635.75" x2="1076.75" y2="635.75" stroke="#333" stroke-width="1.6" stroke-linecap="butt"/><text x="1069.95" y="644.39" font-size="16.3" text-anchor="end" fill="#1a1a1a" stroke="#1a1a1a" stroke-width="0.15" >0<tspan dx="2.77">×</tspan><tspan dx="-2.44">10</tspan><tspan dx="-0.9" dy="-9.13" font-size="11.41">0</tspan></text><path d="M1329.25,467.5 V462 H1385 V467.5" stroke="#000" stroke-width="2" fill="none" stroke-linejoin="miter"/><text x="1357.12" y="465.17" font-size="30.5" font-weight="bold" text-anchor="middle">*</text><rect x="105.5" y="76.2" width="28" height="265.8" fill="#e8e8e8" stroke="#5c5c5c" stroke-width="2.5"/><text transform="translate(130.5,209.1) rotate(-90)" font-size="29" text-anchor="middle" fill="#1a1a1a" stroke="#1a1a1a" stroke-width="0.26">1h</text><rect x="105.5" y="377.9" width="28" height="257.1" fill="#e8e8e8" stroke="#5c5c5c" stroke-width="2.5"/><text transform="translate(130.5,506.45) rotate(-90)" font-size="29" text-anchor="middle" fill="#1a1a1a" stroke="#1a1a1a" stroke-width="0.26">24h</text><text transform="translate(233,72) scale(1,1.04)" font-size="35.9" text-anchor="start" fill="#000" stroke="#000" stroke-width="0.32" >GABA</text><text transform="translate(682,72) scale(1,1.04)" font-size="35.9" text-anchor="start" fill="#000" stroke="#000" stroke-width="0.32" >GABA-d6</text><text transform="translate(1110,72) scale(1,1.04)" font-size="35.9" text-anchor="start" fill="#000" stroke="#000" stroke-width="0.32" >Glutamate</text><text transform="translate(61.4,357.5) rotate(-90)" font-size="33" text-anchor="middle" stroke="#000" stroke-width="0.3">Peak height</text><text x="3" y="54" font-size="77" text-anchor="start" fill="#111" stroke="#111" stroke-width="0.69" >a</text><text x="1495" y="56" font-size="77" text-anchor="start" fill="#111" stroke="#111" stroke-width="0.69" >b</text><text x="-0.3" y="881.1" font-size="77" text-anchor="start" fill="#111" stroke="#111" stroke-width="0.69" >c</text><text transform="translate(49.5,683.2) scale(1,1.04)" font-size="27" text-anchor="start" fill="#111" stroke="#111" stroke-width="0.24" >GABA-d6</text><text x="238.9" y="683.17" font-size="42" text-anchor="middle" fill="#111" stroke="#111" stroke-width="0.38" >–</text><text x="294" y="683.17" font-size="42" text-anchor="middle" fill="#111" stroke="#111" stroke-width="0.38" >–</text><text x="348.6" y="687.3" font-size="42.7" text-anchor="middle" fill="#111" stroke="#111" stroke-width="0.38" font-family="'Liberation Serif', serif">+</text><text x="403.2" y="687.3" font-size="42.7" text-anchor="middle" fill="#111" stroke="#111" stroke-width="0.38" font-family="'Liberation Serif', serif">+</text><text x="457.9" y="687.3" font-size="42.7" text-anchor="middle" fill="#111" stroke="#111" stroke-width="0.38" font-family="'Liberation Serif', serif">+</text><text x="513.3" y="687.3" font-size="42.7" text-anchor="middle" fill="#111" stroke="#111" stroke-width="0.38" font-family="'Liberation Serif', serif">+</text><text x="682.9" y="683.17" font-size="42" text-anchor="middle" fill="#111" stroke="#111" stroke-width="0.38" >–</text><text x="737.6" y="683.17" font-size="42" text-anchor="middle" fill="#111" stroke="#111" stroke-width="0.38" >–</text><text x="792.4" y="687.3" font-size="42.7" text-anchor="middle" fill="#111" stroke="#111" stroke-width="0.38" font-family="'Liberation Serif', serif">+</text><text x="847.2" y="687.3" font-size="42.7" text-anchor="middle" fill="#111" stroke="#111" stroke-width="0.38" font-family="'Liberation Serif', serif">+</text><text x="901.9" y="687.3" font-size="42.7" text-anchor="middle" fill="#111" stroke="#111" stroke-width="0.38" font-family="'Liberation Serif', serif">+</text><text x="956.7" y="687.3" font-size="42.7" text-anchor="middle" fill="#111" stroke="#111" stroke-width="0.38" font-family="'Liberation Serif', serif">+</text><text x="1109.6" y="683.17" font-size="42" text-anchor="middle" fill="#111" stroke="#111" stroke-width="0.38" >–</text><text x="1164.4" y="683.17" font-size="42" text-anchor="middle" fill="#111" stroke="#111" stroke-width="0.38" >–</text><text x="1219.2" y="687.3" font-size="42.7" text-anchor="middle" fill="#111" stroke="#111" stroke-width="0.38" font-family="'Liberation Serif', serif">+</text><text x="1274" y="687.3" font-size="42.7" text-anchor="middle" fill="#111" stroke="#111" stroke-width="0.38" font-family="'Liberation Serif', serif">+</text><text x="1328.7" y="687.3" font-size="42.7" text-anchor="middle" fill="#111" stroke="#111" stroke-width="0.38" font-family="'Liberation Serif', serif">+</text><text x="1383.5" y="687.3" font-size="42.7" text-anchor="middle" fill="#111" stroke="#111" stroke-width="0.38" font-family="'Liberation Serif', serif">+</text><text transform="translate(49.5,715.4) scale(1,1.04)" font-size="27" text-anchor="start" fill="#111" stroke="#111" stroke-width="0.24" >GU</text><text x="238.9" y="718.47" font-size="42" text-anchor="middle" fill="#111" stroke="#111" stroke-width="0.38" >–</text><text x="294" y="718.47" font-size="42" text-anchor="middle" fill="#111" stroke="#111" stroke-width="0.38" >–</text><text x="348.6" y="722.6" font-size="42.7" text-anchor="middle" fill="#111" stroke="#111" stroke-width="0.38" font-family="'Liberation Serif', serif">+</text><text x="403.2" y="718.47" font-size="42" text-anchor="middle" fill="#111" stroke="#111" stroke-width="0.38" >–</text><text x="457.9" y="722.6" font-size="42.7" text-anchor="middle" fill="#111" stroke="#111" stroke-width="0.38" font-family="'Liberation Serif', serif">+</text><text x="513.3" y="718.47" font-size="42" text-anchor="middle" fill="#111" stroke="#111" stroke-width="0.38" >–</text><text x="682.9" y="718.47" font-size="42" text-anchor="middle" fill="#111" stroke="#111" stroke-width="0.38" >–</text><text x="737.6" y="718.47" font-size="42" text-anchor="middle" fill="#111" stroke="#111" stroke-width="0.38" >–</text><text x="792.4" y="722.6" font-size="42.7" text-anchor="middle" fill="#111" stroke="#111" stroke-width="0.38" font-family="'Liberation Serif', serif">+</text><text x="847.2" y="718.47" font-size="42" text-anchor="middle" fill="#111" stroke="#111" stroke-width="0.38" >–</text><text x="901.9" y="722.6" font-size="42.7" text-anchor="middle" fill="#111" stroke="#111" stroke-width="0.38" font-family="'Liberation Serif', serif">+</text><text x="956.7" y="718.47" font-size="42" text-anchor="middle" fill="#111" stroke="#111" stroke-width="0.38" >–</text><text x="1109.6" y="718.47" font-size="42" text-anchor="middle" fill="#111" stroke="#111" stroke-width="0.38" >–</text><text x="1164.4" y="718.47" font-size="42" text-anchor="middle" fill="#111" stroke="#111" stroke-width="0.38" >–</text><text x="1219.2" y="722.6" font-size="42.7" text-anchor="middle" fill="#111" stroke="#111" stroke-width="0.38" font-family="'Liberation Serif', serif">+</text><text x="1274" y="718.47" font-size="42" text-anchor="middle" fill="#111" stroke="#111" stroke-width="0.38" >–</text><text x="1328.7" y="722.6" font-size="42.7" text-anchor="middle" fill="#111" stroke="#111" stroke-width="0.38" font-family="'Liberation Serif', serif">+</text><text x="1383.5" y="718.47" font-size="42" text-anchor="middle" fill="#111" stroke="#111" stroke-width="0.38" >–</text><text transform="translate(49.5,749.9) scale(1,1.04)" font-size="27" text-anchor="start" fill="#111" stroke="#111" stroke-width="0.24" >LPS</text><text x="238.9" y="753.97" font-size="42" text-anchor="middle" fill="#111" stroke="#111" stroke-width="0.38" >–</text><text x="294" y="758.1" font-size="42.7" text-anchor="middle" fill="#111" stroke="#111" stroke-width="0.38" font-family="'Liberation Serif', serif">+</text><text x="348.6" y="758.1" font-size="42.7" text-anchor="middle" fill="#111" stroke="#111" stroke-width="0.38" font-family="'Liberation Serif', serif">+</text><text x="403.2" y="758.1" font-size="42.7" text-anchor="middle" fill="#111" stroke="#111" stroke-width="0.38" font-family="'Liberation Serif', serif">+</text><text x="457.9" y="753.97" font-size="42" text-anchor="middle" fill="#111" stroke="#111" stroke-width="0.38" >–</text><text x="513.3" y="753.97" font-size="42" text-anchor="middle" fill="#111" stroke="#111" stroke-width="0.38" >–</text><text x="682.9" y="753.97" font-size="42" text-anchor="middle" fill="#111" stroke="#111" stroke-width="0.38" >–</text><text x="737.6" y="758.1" font-size="42.7" text-anchor="middle" fill="#111" stroke="#111" stroke-width="0.38" font-family="'Liberation Serif', serif">+</text><text x="792.4" y="758.1" font-size="42.7" text-anchor="middle" fill="#111" stroke="#111" stroke-width="0.38" font-family="'Liberation Serif', serif">+</text><text x="847.2" y="758.1" font-size="42.7" text-anchor="middle" fill="#111" stroke="#111" stroke-width="0.38" font-family="'Liberation Serif', serif">+</text><text x="901.9" y="753.97" font-size="42" text-anchor="middle" fill="#111" stroke="#111" stroke-width="0.38" >–</text><text x="956.7" y="753.97" font-size="42" text-anchor="middle" fill="#111" stroke="#111" stroke-width="0.38" >–</text><text x="1109.6" y="753.97" font-size="42" text-anchor="middle" fill="#111" stroke="#111" stroke-width="0.38" >–</text><text x="1164.4" y="758.1" font-size="42.7" text-anchor="middle" fill="#111" stroke="#111" stroke-width="0.38" font-family="'Liberation Serif', serif">+</text><text x="1219.2" y="758.1" font-size="42.7" text-anchor="middle" fill="#111" stroke="#111" stroke-width="0.38" font-family="'Liberation Serif', serif">+</text><text x="1274" y="758.1" font-size="42.7" text-anchor="middle" fill="#111" stroke="#111" stroke-width="0.38" font-family="'Liberation Serif', serif">+</text><text x="1328.7" y="753.97" font-size="42" text-anchor="middle" fill="#111" stroke="#111" stroke-width="0.38" >–</text><text x="1383.5" y="753.97" font-size="42" text-anchor="middle" fill="#111" stroke="#111" stroke-width="0.38" >–</text><rect x="1639.3" y="586.6" width="84.6" height="42.1" fill="#f5f5f5" stroke="#000" stroke-width="3"/><rect x="1762.25" y="290.95" width="84" height="337.75" fill="#a6a6a6" stroke="#000" stroke-width="3"/><rect x="1884.35" y="429.75" width="84.7" height="198.95" fill="#595959" stroke="#000" stroke-width="3"/><line x1="1682.2" y1="561.9" x2="1682.2" y2="611.3" stroke="#000" stroke-width="3.4" stroke-linecap="butt"/><line x1="1676.2" y1="561.9" x2="1688.2" y2="561.9" stroke="#000" stroke-width="3.3" stroke-linecap="butt"/><line x1="1676.2" y1="611.3" x2="1688.2" y2="611.3" stroke="#000" stroke-width="3.3" stroke-linecap="butt"/><line x1="1804.3" y1="245.25" x2="1804.3" y2="336.65" stroke="#000" stroke-width="3.4" stroke-linecap="butt"/><line x1="1798.3" y1="245.25" x2="1810.3" y2="245.25" stroke="#000" stroke-width="3.3" stroke-linecap="butt"/><line x1="1798.3" y1="336.65" x2="1810.3" y2="336.65" stroke="#000" stroke-width="3.3" stroke-linecap="butt"/><line x1="1926.2" y1="413.15" x2="1926.2" y2="446.35" stroke="#000" stroke-width="3.4" stroke-linecap="butt"/><line x1="1920.2" y1="413.15" x2="1932.2" y2="413.15" stroke="#000" stroke-width="3.3" stroke-linecap="butt"/><line x1="1920.2" y1="446.35" x2="1932.2" y2="446.35" stroke="#000" stroke-width="3.3" stroke-linecap="butt"/><circle cx="1687.6" cy="539.5" r="7" fill="#555555" stroke="#000" stroke-width="2.4"/><circle cx="1674.9" cy="607.9" r="7" fill="#555555" stroke="#000" stroke-width="2.4"/><circle cx="1693.3" cy="610.9" r="7" fill="#555555" stroke="#000" stroke-width="2.4"/><circle cx="1805.4" cy="221.2" r="7" fill="#555555" stroke="#000" stroke-width="2.4"/><circle cx="1808.5" cy="274" r="7" fill="#555555" stroke="#000" stroke-width="2.4"/><circle cx="1804.3" cy="375" r="7" fill="#555555" stroke="#000" stroke-width="2.4"/><circle cx="1922.4" cy="404.1" r="7" fill="#555555" stroke="#000" stroke-width="2.4"/><circle cx="1934.3" cy="424.3" r="7" fill="#555555" stroke="#000" stroke-width="2.4"/><circle cx="1926.2" cy="459.8" r="7" fill="#555555" stroke="#000" stroke-width="2.4"/><path d="M1804,203 V170 H1927.2 V361" stroke="#000" stroke-width="3.1" fill="none" stroke-linejoin="miter"/><text x="1861.8" y="173.7" font-size="38.8" font-weight="bold" text-anchor="middle">*</text><line x1="1608.8" y1="140.5" x2="1608.8" y2="630.25" stroke="#000" stroke-width="3.1" stroke-linecap="butt"/><line x1="1607.25" y1="628.7" x2="2000" y2="628.7" stroke="#000" stroke-width="3.1" stroke-linecap="butt"/><line x1="1600.5" y1="628.7" x2="1608.8" y2="628.7" stroke="#444" stroke-width="2.8" stroke-linecap="butt"/><text x="1593.6" y="642.5" font-size="34.4" text-anchor="end" fill="#111" stroke="#111" stroke-width="0.31" >0.0</text><line x1="1600.5" y1="543.2" x2="1608.8" y2="543.2" stroke="#444" stroke-width="2.8" stroke-linecap="butt"/><text x="1593.6" y="557" font-size="34.4" text-anchor="end" fill="#111" stroke="#111" stroke-width="0.31" >0.1</text><line x1="1600.5" y1="457.7" x2="1608.8" y2="457.7" stroke="#444" stroke-width="2.8" stroke-linecap="butt"/><text x="1593.6" y="471.5" font-size="34.4" text-anchor="end" fill="#111" stroke="#111" stroke-width="0.31" >0.2</text><line x1="1600.5" y1="372.2" x2="1608.8" y2="372.2" stroke="#444" stroke-width="2.8" stroke-linecap="butt"/><text x="1593.6" y="386" font-size="34.4" text-anchor="end" fill="#111" stroke="#111" stroke-width="0.31" >0.3</text><line x1="1600.5" y1="286.7" x2="1608.8" y2="286.7" stroke="#444" stroke-width="2.8" stroke-linecap="butt"/><text x="1593.6" y="300.5" font-size="34.4" text-anchor="end" fill="#111" stroke="#111" stroke-width="0.31" >0.4</text><line x1="1600.5" y1="201.2" x2="1608.8" y2="201.2" stroke="#444" stroke-width="2.8" stroke-linecap="butt"/><text x="1593.6" y="215" font-size="34.4" text-anchor="end" fill="#111" stroke="#111" stroke-width="0.31" >0.5</text><line x1="1682.2" y1="628.7" x2="1682.2" y2="637.7" stroke="#444" stroke-width="3.1" stroke-linecap="butt"/><text transform="translate(1681.5,672.7) scale(1,1.02)" font-size="35.6" text-anchor="middle" fill="#111" stroke="#111" stroke-width="0.32" >Control</text><line x1="1804.3" y1="628.7" x2="1804.3" y2="637.7" stroke="#444" stroke-width="3.1" stroke-linecap="butt"/><text transform="translate(1803.5,672.7) scale(1,1.02)" font-size="35.6" text-anchor="middle" fill="#111" stroke="#111" stroke-width="0.32" >GU</text><line x1="1926.2" y1="628.7" x2="1926.2" y2="637.7" stroke="#444" stroke-width="3.1" stroke-linecap="butt"/><text transform="translate(1932,672.7) scale(1,1.02)" font-size="35.6" text-anchor="middle" fill="#111" stroke="#111" stroke-width="0.32" >GU/ALG</text><text transform="translate(1526.1,387) rotate(-90)" font-size="35.4" text-anchor="middle" fill="#111" stroke="#111" stroke-width="0.32">Relative abundance</text><rect x="271" y="1019.65" width="40.6" height="219.75" fill="#959a9e" stroke="none" stroke-width="0"/><line x1="291.3" y1="1020.95" x2="291.3" y2="1238.1" stroke="rgba(255,255,255,0.16)" stroke-width="1.1" stroke-linecap="butt"/><line x1="272.3" y1="1185.35" x2="310.3" y2="1185.35" stroke="rgba(255,255,255,0.16)" stroke-width="1.1" stroke-linecap="butt"/><line x1="272.3" y1="1131.3" x2="310.3" y2="1131.3" stroke="rgba(255,255,255,0.16)" stroke-width="1.1" stroke-linecap="butt"/><line x1="272.3" y1="1077.25" x2="310.3" y2="1077.25" stroke="rgba(255,255,255,0.16)" stroke-width="1.1" stroke-linecap="butt"/><line x1="272.3" y1="1023.2" x2="310.3" y2="1023.2" stroke="rgba(255,255,255,0.16)" stroke-width="1.1" stroke-linecap="butt"/><rect x="271" y="1019.65" width="40.6" height="219.75" fill="none" stroke="#000" stroke-width="2.8"/><rect x="386.4" y="977.65" width="40.6" height="261.75" fill="#2769b8" stroke="none" stroke-width="0"/><rect x="386.4" y="977.65" width="40.6" height="261.75" fill="none" stroke="#000" stroke-width="2.8"/><rect x="478.35" y="995.9" width="40.6" height="243.5" fill="#82aa83" stroke="none" stroke-width="0"/><line x1="479.65" y1="1185.35" x2="517.65" y2="1185.35" stroke="rgba(255,255,255,0.16)" stroke-width="1.1" stroke-linecap="butt"/><line x1="479.65" y1="1131.3" x2="517.65" y2="1131.3" stroke="rgba(255,255,255,0.16)" stroke-width="1.1" stroke-linecap="butt"/><line x1="479.65" y1="1077.25" x2="517.65" y2="1077.25" stroke="rgba(255,255,255,0.16)" stroke-width="1.1" stroke-linecap="butt"/><line x1="479.65" y1="1023.2" x2="517.65" y2="1023.2" stroke="rgba(255,255,255,0.16)" stroke-width="1.1" stroke-linecap="butt"/><rect x="478.35" y="995.9" width="40.6" height="243.5" fill="none" stroke="#000" stroke-width="2.8"/><rect x="524.05" y="1097.65" width="40.6" height="141.75" fill="#82aa83" stroke="none" stroke-width="0"/><line x1="525.35" y1="1185.35" x2="563.35" y2="1185.35" stroke="rgba(255,255,255,0.16)" stroke-width="1.1" stroke-linecap="butt"/><line x1="525.35" y1="1131.3" x2="563.35" y2="1131.3" stroke="rgba(255,255,255,0.16)" stroke-width="1.1" stroke-linecap="butt"/><rect x="524.05" y="1097.65" width="40.6" height="141.75" fill="none" stroke="#000" stroke-width="2.8"/><rect x="593.95" y="1070.9" width="40.6" height="168.5" fill="#8a80c8" stroke="none" stroke-width="0"/><line x1="595.25" y1="1185.35" x2="633.25" y2="1185.35" stroke="rgba(255,255,255,0.16)" stroke-width="1.1" stroke-linecap="butt"/><line x1="595.25" y1="1131.3" x2="633.25" y2="1131.3" stroke="rgba(255,255,255,0.16)" stroke-width="1.1" stroke-linecap="butt"/><line x1="595.25" y1="1077.25" x2="633.25" y2="1077.25" stroke="rgba(255,255,255,0.16)" stroke-width="1.1" stroke-linecap="butt"/><rect x="593.95" y="1070.9" width="40.6" height="168.5" fill="none" stroke="#000" stroke-width="2.8"/><rect x="639.65" y="1096.4" width="40.6" height="143" fill="#8a80c8" stroke="none" stroke-width="0"/><line x1="640.95" y1="1185.35" x2="678.95" y2="1185.35" stroke="rgba(255,255,255,0.16)" stroke-width="1.1" stroke-linecap="butt"/><line x1="640.95" y1="1131.3" x2="678.95" y2="1131.3" stroke="rgba(255,255,255,0.16)" stroke-width="1.1" stroke-linecap="butt"/><rect x="639.65" y="1096.4" width="40.6" height="143" fill="none" stroke="#000" stroke-width="2.8"/><line x1="291.3" y1="1015.65" x2="291.3" y2="1023.65" stroke="#000" stroke-width="2.9" stroke-linecap="butt"/><line x1="285.5" y1="1015.65" x2="297.1" y2="1015.65" stroke="#000" stroke-width="2.8" stroke-linecap="butt"/><line x1="285.5" y1="1023.65" x2="297.1" y2="1023.65" stroke="#000" stroke-width="2.8" stroke-linecap="butt"/><line x1="406.7" y1="956.4" x2="406.7" y2="998.9" stroke="#000" stroke-width="2.9" stroke-linecap="butt"/><line x1="400.9" y1="956.4" x2="412.5" y2="956.4" stroke="#000" stroke-width="2.8" stroke-linecap="butt"/><line x1="400.9" y1="998.9" x2="412.5" y2="998.9" stroke="#000" stroke-width="2.8" stroke-linecap="butt"/><line x1="498.65" y1="982.9" x2="498.65" y2="1008.9" stroke="#000" stroke-width="2.9" stroke-linecap="butt"/><line x1="495.7" y1="982.9" x2="501.6" y2="982.9" stroke="#000" stroke-width="2.8" stroke-linecap="butt"/><line x1="495.7" y1="1008.9" x2="501.6" y2="1008.9" stroke="#000" stroke-width="2.8" stroke-linecap="butt"/><line x1="544.35" y1="1089.4" x2="544.35" y2="1105.9" stroke="#000" stroke-width="2.9" stroke-linecap="butt"/><line x1="541.4" y1="1089.4" x2="547.3" y2="1089.4" stroke="#000" stroke-width="2.8" stroke-linecap="butt"/><line x1="541.4" y1="1105.9" x2="547.3" y2="1105.9" stroke="#000" stroke-width="2.8" stroke-linecap="butt"/><line x1="614.25" y1="1052.15" x2="614.25" y2="1089.65" stroke="#000" stroke-width="2.9" stroke-linecap="butt"/><line x1="611.3" y1="1052.15" x2="617.2" y2="1052.15" stroke="#000" stroke-width="2.8" stroke-linecap="butt"/><line x1="611.3" y1="1089.65" x2="617.2" y2="1089.65" stroke="#000" stroke-width="2.8" stroke-linecap="butt"/><line x1="659.95" y1="1071.4" x2="659.95" y2="1121.4" stroke="#000" stroke-width="2.9" stroke-linecap="butt"/><line x1="657" y1="1071.4" x2="662.9" y2="1071.4" stroke="#000" stroke-width="2.8" stroke-linecap="butt"/><line x1="657" y1="1121.4" x2="662.9" y2="1121.4" stroke="#000" stroke-width="2.8" stroke-linecap="butt"/><circle cx="291.3" cy="1009.5" r="3.6" fill="#2f4f4f" stroke="#000" stroke-width="1.6"/><circle cx="291.3" cy="1021" r="3.6" fill="#2f4f4f" stroke="#000" stroke-width="1.6"/><circle cx="291.3" cy="1024.25" r="3.6" fill="#2f4f4f" stroke="#000" stroke-width="1.6"/><circle cx="406.7" cy="936.25" r="3.6" fill="#0000cd" stroke="#000" stroke-width="1.6"/><circle cx="406.7" cy="986.25" r="3.6" fill="#0000cd" stroke="#000" stroke-width="1.6"/><circle cx="406.7" cy="1007.5" r="3.6" fill="#0000cd" stroke="#000" stroke-width="1.6"/><circle cx="498.65" cy="980" r="3.6" fill="#006400" stroke="#000" stroke-width="1.6"/><circle cx="498.65" cy="984.25" r="3.6" fill="#006400" stroke="#000" stroke-width="1.6"/><circle cx="498.65" cy="1020" r="3.6" fill="#006400" stroke="#000" stroke-width="1.6"/><circle cx="544.35" cy="1086.25" r="3.6" fill="#006400" stroke="#000" stroke-width="1.6"/><circle cx="544.35" cy="1088.75" r="3.6" fill="#006400" stroke="#000" stroke-width="1.6"/><circle cx="544.35" cy="1112.5" r="3.6" fill="#006400" stroke="#000" stroke-width="1.6"/><circle cx="614.25" cy="1033.75" r="3.6" fill="#1c0a96" stroke="#000" stroke-width="1.6"/><circle cx="614.25" cy="1081.25" r="3.6" fill="#1c0a96" stroke="#000" stroke-width="1.6"/><circle cx="614.25" cy="1093.75" r="3.6" fill="#1c0a96" stroke="#000" stroke-width="1.6"/><circle cx="659.95" cy="1046.25" r="3.6" fill="#1c0a96" stroke="#000" stroke-width="1.6"/><circle cx="659.95" cy="1115" r="3.6" fill="#1c0a96" stroke="#000" stroke-width="1.6"/><circle cx="659.95" cy="1123.75" r="3.6" fill="#1c0a96" stroke="#000" stroke-width="1.6"/><line x1="222.5" y1="876.25" x2="222.5" y2="1240.8" stroke="#000" stroke-width="2.6" stroke-linecap="butt"/><line x1="221.2" y1="1239.4" x2="706" y2="1239.4" stroke="#000" stroke-width="2.8" stroke-linecap="butt"/><line x1="215.5" y1="1239.4" x2="222.5" y2="1239.4" stroke="#333" stroke-width="2.6" stroke-linecap="butt"/><text x="209.6" y="1252.92" font-size="26" text-anchor="end" fill="#1a1a1a" stroke="#1a1a1a" stroke-width="0.23" >0<tspan dx="4.42">×</tspan><tspan dx="-3.9">10</tspan><tspan dx="-1.43" dy="-14.56" font-size="18.2">0</tspan></text><line x1="215.5" y1="1131.3" x2="222.5" y2="1131.3" stroke="#333" stroke-width="2.6" stroke-linecap="butt"/><text x="209.6" y="1144.82" font-size="26" text-anchor="end" fill="#1a1a1a" stroke="#1a1a1a" stroke-width="0.23" >2<tspan dx="4.42">×</tspan><tspan dx="-3.9">10</tspan><tspan dx="-1.43" dy="-14.56" font-size="18.2">3</tspan></text><line x1="215.5" y1="1023.2" x2="222.5" y2="1023.2" stroke="#333" stroke-width="2.6" stroke-linecap="butt"/><text x="209.6" y="1036.72" font-size="26" text-anchor="end" fill="#1a1a1a" stroke="#1a1a1a" stroke-width="0.23" >4<tspan dx="4.42">×</tspan><tspan dx="-3.9">10</tspan><tspan dx="-1.43" dy="-14.56" font-size="18.2">3</tspan></text><line x1="215.5" y1="915.1" x2="222.5" y2="915.1" stroke="#333" stroke-width="2.6" stroke-linecap="butt"/><text x="209.6" y="928.62" font-size="26" text-anchor="end" fill="#1a1a1a" stroke="#1a1a1a" stroke-width="0.23" >6<tspan dx="4.42">×</tspan><tspan dx="-3.9">10</tspan><tspan dx="-1.43" dy="-14.56" font-size="18.2">3</tspan></text><line x1="291.3" y1="1239.4" x2="291.3" y2="1246" stroke="#333" stroke-width="2.6" stroke-linecap="butt"/><line x1="406.7" y1="1239.4" x2="406.7" y2="1246" stroke="#333" stroke-width="2.6" stroke-linecap="butt"/><line x1="521.5" y1="1239.4" x2="521.5" y2="1246" stroke="#333" stroke-width="2.6" stroke-linecap="butt"/><line x1="637.1" y1="1239.4" x2="637.1" y2="1246" stroke="#333" stroke-width="2.6" stroke-linecap="butt"/><line x1="406.25" y1="884.1" x2="657.9" y2="884.1" stroke="#000" stroke-width="3" stroke-linecap="butt"/><text x="658.87" y="888.66" font-size="33" font-weight="bold" text-anchor="end">*<tspan dx="2.9">*</tspan><tspan dx="2.9">*</tspan></text><line x1="406.25" y1="916.4" x2="612.8" y2="916.4" stroke="#000" stroke-width="3" stroke-linecap="butt"/><text x="609.96" y="919.46" font-size="33" font-weight="bold" text-anchor="end">*<tspan dx="2.9">*</tspan><tspan dx="2.9">*</tspan></text><text x="235.9" y="861.7" font-size="44.4" text-anchor="start" fill="#000" stroke="#000" stroke-width="0.4" >IL-6</text><line x1="477.5" y1="1313.6" x2="566.7" y2="1313.6" stroke="#333" stroke-width="3.1" stroke-linecap="butt"/><text transform="translate(521.7,1343.5) scale(1,1.04)" font-size="23.4" text-anchor="middle" fill="#333" stroke="#333" stroke-width="0.21" >GABA</text><line x1="592.3" y1="1313.6" x2="680.8" y2="1313.6" stroke="#333" stroke-width="3.1" stroke-linecap="butt"/><text transform="translate(644.6,1343.5) scale(1,1.04)" font-size="23.4" text-anchor="middle" fill="#333" stroke="#333" stroke-width="0.21" >ILG/GABA</text><text transform="translate(292.63,1278.36) rotate(-22.5)" font-size="20" text-anchor="middle" fill="#333" stroke="#333" stroke-width="0.18">LPS</text><text transform="translate(409.33,1278.36) rotate(-22.5)" font-size="20" text-anchor="middle" fill="#333" stroke="#333" stroke-width="0.18">ILG</text><text transform="translate(498.13,1278.36) rotate(-22.5)" font-size="20" text-anchor="middle" fill="#333" stroke="#333" stroke-width="0.18">1µM</text><text transform="translate(545.88,1278.36) rotate(-22.5)" font-size="20" text-anchor="middle" fill="#333" stroke="#333" stroke-width="0.18">10µM</text><text transform="translate(616.93,1278.36) rotate(-22.5)" font-size="20" text-anchor="middle" fill="#333" stroke="#333" stroke-width="0.18">1µM</text><text transform="translate(664.13,1278.36) rotate(-22.5)" font-size="20" text-anchor="middle" fill="#333" stroke="#333" stroke-width="0.18">10µM</text><rect x="901.5" y="1000.15" width="40.6" height="239.25" fill="#959a9e" stroke="none" stroke-width="0"/><line x1="921.8" y1="1001.45" x2="921.8" y2="1238.1" stroke="rgba(255,255,255,0.16)" stroke-width="1.1" stroke-linecap="butt"/><line x1="902.8" y1="1193.7" x2="940.8" y2="1193.7" stroke="rgba(255,255,255,0.16)" stroke-width="1.1" stroke-linecap="butt"/><line x1="902.8" y1="1148" x2="940.8" y2="1148" stroke="rgba(255,255,255,0.16)" stroke-width="1.1" stroke-linecap="butt"/><line x1="902.8" y1="1102.3" x2="940.8" y2="1102.3" stroke="rgba(255,255,255,0.16)" stroke-width="1.1" stroke-linecap="butt"/><line x1="902.8" y1="1056.6" x2="940.8" y2="1056.6" stroke="rgba(255,255,255,0.16)" stroke-width="1.1" stroke-linecap="butt"/><line x1="902.8" y1="1010.9" x2="940.8" y2="1010.9" stroke="rgba(255,255,255,0.16)" stroke-width="1.1" stroke-linecap="butt"/><rect x="901.5" y="1000.15" width="40.6" height="239.25" fill="none" stroke="#000" stroke-width="2.8"/><rect x="1017.1" y="1117.65" width="40.6" height="121.75" fill="#2769b8" stroke="none" stroke-width="0"/><rect x="1017.1" y="1117.65" width="40.6" height="121.75" fill="none" stroke="#000" stroke-width="2.8"/><rect x="1109.25" y="974.4" width="40.6" height="265" fill="#82aa83" stroke="none" stroke-width="0"/><line x1="1110.55" y1="1193.7" x2="1148.55" y2="1193.7" stroke="rgba(255,255,255,0.16)" stroke-width="1.1" stroke-linecap="butt"/><line x1="1110.55" y1="1148" x2="1148.55" y2="1148" stroke="rgba(255,255,255,0.16)" stroke-width="1.1" stroke-linecap="butt"/><line x1="1110.55" y1="1102.3" x2="1148.55" y2="1102.3" stroke="rgba(255,255,255,0.16)" stroke-width="1.1" stroke-linecap="butt"/><line x1="1110.55" y1="1056.6" x2="1148.55" y2="1056.6" stroke="rgba(255,255,255,0.16)" stroke-width="1.1" stroke-linecap="butt"/><line x1="1110.55" y1="1010.9" x2="1148.55" y2="1010.9" stroke="rgba(255,255,255,0.16)" stroke-width="1.1" stroke-linecap="butt"/><rect x="1109.25" y="974.4" width="40.6" height="265" fill="none" stroke="#000" stroke-width="2.8"/><rect x="1154.95" y="1082.4" width="40.6" height="157" fill="#82aa83" stroke="none" stroke-width="0"/><line x1="1156.25" y1="1193.7" x2="1194.25" y2="1193.7" stroke="rgba(255,255,255,0.16)" stroke-width="1.1" stroke-linecap="butt"/><line x1="1156.25" y1="1148" x2="1194.25" y2="1148" stroke="rgba(255,255,255,0.16)" stroke-width="1.1" stroke-linecap="butt"/><line x1="1156.25" y1="1102.3" x2="1194.25" y2="1102.3" stroke="rgba(255,255,255,0.16)" stroke-width="1.1" stroke-linecap="butt"/><rect x="1154.95" y="1082.4" width="40.6" height="157" fill="none" stroke="#000" stroke-width="2.8"/><rect x="1224.85" y="1162.6" width="40.6" height="76.8" fill="#8a80c8" stroke="none" stroke-width="0"/><line x1="1226.15" y1="1193.7" x2="1264.15" y2="1193.7" stroke="rgba(255,255,255,0.16)" stroke-width="1.1" stroke-linecap="butt"/><rect x="1224.85" y="1162.6" width="40.6" height="76.8" fill="none" stroke="#000" stroke-width="2.8"/><rect x="1270.55" y="1171.5" width="40.6" height="67.9" fill="#8a80c8" stroke="none" stroke-width="0"/><line x1="1271.85" y1="1193.7" x2="1309.85" y2="1193.7" stroke="rgba(255,255,255,0.16)" stroke-width="1.1" stroke-linecap="butt"/><rect x="1270.55" y="1171.5" width="40.6" height="67.9" fill="none" stroke="#000" stroke-width="2.8"/><line x1="921.8" y1="990.15" x2="921.8" y2="1010.15" stroke="#000" stroke-width="2.9" stroke-linecap="butt"/><line x1="916" y1="990.15" x2="927.6" y2="990.15" stroke="#000" stroke-width="2.8" stroke-linecap="butt"/><line x1="916" y1="1010.15" x2="927.6" y2="1010.15" stroke="#000" stroke-width="2.8" stroke-linecap="butt"/><line x1="1037.4" y1="1105.9" x2="1037.4" y2="1129.4" stroke="#000" stroke-width="2.9" stroke-linecap="butt"/><line x1="1031.6" y1="1105.9" x2="1043.2" y2="1105.9" stroke="#000" stroke-width="2.8" stroke-linecap="butt"/><line x1="1031.6" y1="1129.4" x2="1043.2" y2="1129.4" stroke="#000" stroke-width="2.8" stroke-linecap="butt"/><line x1="1129.55" y1="953.9" x2="1129.55" y2="994.9" stroke="#000" stroke-width="2.9" stroke-linecap="butt"/><line x1="1126.6" y1="953.9" x2="1132.5" y2="953.9" stroke="#000" stroke-width="2.8" stroke-linecap="butt"/><line x1="1126.6" y1="994.9" x2="1132.5" y2="994.9" stroke="#000" stroke-width="2.8" stroke-linecap="butt"/><line x1="1175.25" y1="1071.4" x2="1175.25" y2="1093.4" stroke="#000" stroke-width="2.9" stroke-linecap="butt"/><line x1="1172.3" y1="1071.4" x2="1178.2" y2="1071.4" stroke="#000" stroke-width="2.8" stroke-linecap="butt"/><line x1="1172.3" y1="1093.4" x2="1178.2" y2="1093.4" stroke="#000" stroke-width="2.8" stroke-linecap="butt"/><line x1="1245.15" y1="1152.6" x2="1245.15" y2="1172.6" stroke="#000" stroke-width="2.9" stroke-linecap="butt"/><line x1="1242.2" y1="1152.6" x2="1248.1" y2="1152.6" stroke="#000" stroke-width="2.8" stroke-linecap="butt"/><line x1="1242.2" y1="1172.6" x2="1248.1" y2="1172.6" stroke="#000" stroke-width="2.8" stroke-linecap="butt"/><line x1="1290.85" y1="1159.5" x2="1290.85" y2="1183.5" stroke="#000" stroke-width="2.9" stroke-linecap="butt"/><line x1="1287.9" y1="1159.5" x2="1293.8" y2="1159.5" stroke="#000" stroke-width="2.8" stroke-linecap="butt"/><line x1="1287.9" y1="1183.5" x2="1293.8" y2="1183.5" stroke="#000" stroke-width="2.8" stroke-linecap="butt"/><circle cx="921.8" cy="979.5" r="3.6" fill="#2f4f4f" stroke="#000" stroke-width="1.6"/><circle cx="921.8" cy="1006.25" r="3.6" fill="#2f4f4f" stroke="#000" stroke-width="1.6"/><circle cx="921.8" cy="1012" r="3.6" fill="#2f4f4f" stroke="#000" stroke-width="1.6"/><circle cx="1037.4" cy="1093" r="3.6" fill="#0000cd" stroke="#000" stroke-width="1.6"/><circle cx="1037.4" cy="1127" r="3.6" fill="#0000cd" stroke="#000" stroke-width="1.6"/><circle cx="1037.4" cy="1128.75" r="3.6" fill="#0000cd" stroke="#000" stroke-width="1.6"/><circle cx="1129.55" cy="936.75" r="3.6" fill="#006400" stroke="#000" stroke-width="1.6"/><circle cx="1129.55" cy="977" r="3.6" fill="#006400" stroke="#000" stroke-width="1.6"/><circle cx="1129.55" cy="1008" r="3.6" fill="#006400" stroke="#000" stroke-width="1.6"/><circle cx="1175.25" cy="1067" r="3.6" fill="#006400" stroke="#000" stroke-width="1.6"/><circle cx="1175.25" cy="1074.5" r="3.6" fill="#006400" stroke="#000" stroke-width="1.6"/><circle cx="1175.25" cy="1102.5" r="3.6" fill="#006400" stroke="#000" stroke-width="1.6"/><circle cx="1245.15" cy="1141.6" r="3.6" fill="#1c0a96" stroke="#000" stroke-width="1.6"/><circle cx="1245.15" cy="1168" r="3.6" fill="#1c0a96" stroke="#000" stroke-width="1.6"/><circle cx="1245.15" cy="1175.2" r="3.6" fill="#1c0a96" stroke="#000" stroke-width="1.6"/><circle cx="1290.85" cy="1147.2" r="3.6" fill="#1c0a96" stroke="#000" stroke-width="1.6"/><circle cx="1290.85" cy="1178.1" r="3.6" fill="#1c0a96" stroke="#000" stroke-width="1.6"/><circle cx="1290.85" cy="1187.1" r="3.6" fill="#1c0a96" stroke="#000" stroke-width="1.6"/><line x1="853.3" y1="876.25" x2="853.3" y2="1240.8" stroke="#000" stroke-width="2.6" stroke-linecap="butt"/><line x1="852" y1="1239.4" x2="1337.5" y2="1239.4" stroke="#000" stroke-width="2.8" stroke-linecap="butt"/><line x1="846.3" y1="1239.4" x2="853.3" y2="1239.4" stroke="#333" stroke-width="2.6" stroke-linecap="butt"/><text x="840.4" y="1252.92" font-size="26" text-anchor="end" fill="#1a1a1a" stroke="#1a1a1a" stroke-width="0.23" >0.0<tspan dx="4.42">×</tspan><tspan dx="-3.9">10</tspan><tspan dx="-1.43" dy="-14.56" font-size="18.2">0</tspan></text><line x1="846.3" y1="1148" x2="853.3" y2="1148" stroke="#333" stroke-width="2.6" stroke-linecap="butt"/><text x="840.4" y="1161.52" font-size="26" text-anchor="end" fill="#1a1a1a" stroke="#1a1a1a" stroke-width="0.23" >4.0<tspan dx="4.42">×</tspan><tspan dx="-3.9">10</tspan><tspan dx="-1.43" dy="-14.56" font-size="18.2">3</tspan></text><line x1="846.3" y1="1056.6" x2="853.3" y2="1056.6" stroke="#333" stroke-width="2.6" stroke-linecap="butt"/><text x="840.4" y="1070.12" font-size="26" text-anchor="end" fill="#1a1a1a" stroke="#1a1a1a" stroke-width="0.23" >8.0<tspan dx="4.42">×</tspan><tspan dx="-3.9">10</tspan><tspan dx="-1.43" dy="-14.56" font-size="18.2">3</tspan></text><line x1="846.3" y1="965.2" x2="853.3" y2="965.2" stroke="#333" stroke-width="2.6" stroke-linecap="butt"/><text x="840.4" y="978.72" font-size="26" text-anchor="end" fill="#1a1a1a" stroke="#1a1a1a" stroke-width="0.23" >1.2<tspan dx="4.42">×</tspan><tspan dx="-3.9">10</tspan><tspan dx="-1.43" dy="-14.56" font-size="18.2">4</tspan></text><line x1="921.8" y1="1239.4" x2="921.8" y2="1246" stroke="#333" stroke-width="2.6" stroke-linecap="butt"/><line x1="1037.4" y1="1239.4" x2="1037.4" y2="1246" stroke="#333" stroke-width="2.6" stroke-linecap="butt"/><line x1="1152.4" y1="1239.4" x2="1152.4" y2="1246" stroke="#333" stroke-width="2.6" stroke-linecap="butt"/><line x1="1268" y1="1239.4" x2="1268" y2="1246" stroke="#333" stroke-width="2.6" stroke-linecap="butt"/><line x1="1038.1" y1="875.1" x2="1290" y2="875.1" stroke="#000" stroke-width="3" stroke-linecap="butt"/><text x="1289.37" y="880.16" font-size="33" font-weight="bold" text-anchor="end">*</text><line x1="1038.1" y1="911.4" x2="1244.5" y2="911.4" stroke="#000" stroke-width="3" stroke-linecap="butt"/><text x="1241.87" y="916.46" font-size="33" font-weight="bold" text-anchor="end">*<tspan dx="2.9">*</tspan></text><text x="858.8" y="861.7" font-size="44.4" text-anchor="start" fill="#000" stroke="#000" stroke-width="0.4" >IL-1<tspan font-family="'DejaVu Serif', serif" font-size="41">β</tspan></text><line x1="1106.4" y1="1313.6" x2="1195.4" y2="1313.6" stroke="#333" stroke-width="3.1" stroke-linecap="butt"/><text transform="translate(1150.5,1343.5) scale(1,1.04)" font-size="23.4" text-anchor="middle" fill="#333" stroke="#333" stroke-width="0.21" >GABA</text><line x1="1221" y1="1313.6" x2="1309.6" y2="1313.6" stroke="#333" stroke-width="3.1" stroke-linecap="butt"/><text transform="translate(1273.8,1343.5) scale(1,1.04)" font-size="23.4" text-anchor="middle" fill="#333" stroke="#333" stroke-width="0.21" >ILG/GABA</text><text transform="translate(921.13,1278.36) rotate(-22.5)" font-size="20" text-anchor="middle" fill="#333" stroke="#333" stroke-width="0.18">LPS</text><text transform="translate(1038.13,1278.36) rotate(-22.5)" font-size="20" text-anchor="middle" fill="#333" stroke="#333" stroke-width="0.18">ILG</text><text transform="translate(1127.13,1278.36) rotate(-22.5)" font-size="20" text-anchor="middle" fill="#333" stroke="#333" stroke-width="0.18">1µM</text><text transform="translate(1175.13,1278.36) rotate(-22.5)" font-size="20" text-anchor="middle" fill="#333" stroke="#333" stroke-width="0.18">10µM</text><text transform="translate(1245.63,1278.36) rotate(-22.5)" font-size="20" text-anchor="middle" fill="#333" stroke="#333" stroke-width="0.18">1µM</text><text transform="translate(1293.33,1278.36) rotate(-22.5)" font-size="20" text-anchor="middle" fill="#333" stroke="#333" stroke-width="0.18">10µM</text><rect x="1512.3" y="957.15" width="40.6" height="282.25" fill="#959a9e" stroke="none" stroke-width="0"/><line x1="1532.6" y1="958.45" x2="1532.6" y2="1238.1" stroke="rgba(255,255,255,0.16)" stroke-width="1.1" stroke-linecap="butt"/><line x1="1513.6" y1="1201.15" x2="1551.6" y2="1201.15" stroke="rgba(255,255,255,0.16)" stroke-width="1.1" stroke-linecap="butt"/><line x1="1513.6" y1="1162.9" x2="1551.6" y2="1162.9" stroke="rgba(255,255,255,0.16)" stroke-width="1.1" stroke-linecap="butt"/><line x1="1513.6" y1="1124.65" x2="1551.6" y2="1124.65" stroke="rgba(255,255,255,0.16)" stroke-width="1.1" stroke-linecap="butt"/><line x1="1513.6" y1="1086.4" x2="1551.6" y2="1086.4" stroke="rgba(255,255,255,0.16)" stroke-width="1.1" stroke-linecap="butt"/><line x1="1513.6" y1="1048.15" x2="1551.6" y2="1048.15" stroke="rgba(255,255,255,0.16)" stroke-width="1.1" stroke-linecap="butt"/><line x1="1513.6" y1="1009.9" x2="1551.6" y2="1009.9" stroke="rgba(255,255,255,0.16)" stroke-width="1.1" stroke-linecap="butt"/><line x1="1513.6" y1="971.65" x2="1551.6" y2="971.65" stroke="rgba(255,255,255,0.16)" stroke-width="1.1" stroke-linecap="butt"/><rect x="1512.3" y="957.15" width="40.6" height="282.25" fill="none" stroke="#000" stroke-width="2.8"/><rect x="1627.9" y="1014.4" width="40.6" height="225" fill="#2769b8" stroke="none" stroke-width="0"/><rect x="1627.9" y="1014.4" width="40.6" height="225" fill="none" stroke="#000" stroke-width="2.8"/><rect x="1720.35" y="982.5" width="40.6" height="256.9" fill="#82aa83" stroke="none" stroke-width="0"/><line x1="1721.65" y1="1201.15" x2="1759.65" y2="1201.15" stroke="rgba(255,255,255,0.16)" stroke-width="1.1" stroke-linecap="butt"/><line x1="1721.65" y1="1162.9" x2="1759.65" y2="1162.9" stroke="rgba(255,255,255,0.16)" stroke-width="1.1" stroke-linecap="butt"/><line x1="1721.65" y1="1124.65" x2="1759.65" y2="1124.65" stroke="rgba(255,255,255,0.16)" stroke-width="1.1" stroke-linecap="butt"/><line x1="1721.65" y1="1086.4" x2="1759.65" y2="1086.4" stroke="rgba(255,255,255,0.16)" stroke-width="1.1" stroke-linecap="butt"/><line x1="1721.65" y1="1048.15" x2="1759.65" y2="1048.15" stroke="rgba(255,255,255,0.16)" stroke-width="1.1" stroke-linecap="butt"/><line x1="1721.65" y1="1009.9" x2="1759.65" y2="1009.9" stroke="rgba(255,255,255,0.16)" stroke-width="1.1" stroke-linecap="butt"/><rect x="1720.35" y="982.5" width="40.6" height="256.9" fill="none" stroke="#000" stroke-width="2.8"/><rect x="1766.05" y="1014.7" width="40.6" height="224.7" fill="#82aa83" stroke="none" stroke-width="0"/><line x1="1767.35" y1="1201.15" x2="1805.35" y2="1201.15" stroke="rgba(255,255,255,0.16)" stroke-width="1.1" stroke-linecap="butt"/><line x1="1767.35" y1="1162.9" x2="1805.35" y2="1162.9" stroke="rgba(255,255,255,0.16)" stroke-width="1.1" stroke-linecap="butt"/><line x1="1767.35" y1="1124.65" x2="1805.35" y2="1124.65" stroke="rgba(255,255,255,0.16)" stroke-width="1.1" stroke-linecap="butt"/><line x1="1767.35" y1="1086.4" x2="1805.35" y2="1086.4" stroke="rgba(255,255,255,0.16)" stroke-width="1.1" stroke-linecap="butt"/><line x1="1767.35" y1="1048.15" x2="1805.35" y2="1048.15" stroke="rgba(255,255,255,0.16)" stroke-width="1.1" stroke-linecap="butt"/><rect x="1766.05" y="1014.7" width="40.6" height="224.7" fill="none" stroke="#000" stroke-width="2.8"/><rect x="1836.15" y="1016.5" width="40.6" height="222.9" fill="#8a80c8" stroke="none" stroke-width="0"/><line x1="1837.45" y1="1201.15" x2="1875.45" y2="1201.15" stroke="rgba(255,255,255,0.16)" stroke-width="1.1" stroke-linecap="butt"/><line x1="1837.45" y1="1162.9" x2="1875.45" y2="1162.9" stroke="rgba(255,255,255,0.16)" stroke-width="1.1" stroke-linecap="butt"/><line x1="1837.45" y1="1124.65" x2="1875.45" y2="1124.65" stroke="rgba(255,255,255,0.16)" stroke-width="1.1" stroke-linecap="butt"/><line x1="1837.45" y1="1086.4" x2="1875.45" y2="1086.4" stroke="rgba(255,255,255,0.16)" stroke-width="1.1" stroke-linecap="butt"/><line x1="1837.45" y1="1048.15" x2="1875.45" y2="1048.15" stroke="rgba(255,255,255,0.16)" stroke-width="1.1" stroke-linecap="butt"/><rect x="1836.15" y="1016.5" width="40.6" height="222.9" fill="none" stroke="#000" stroke-width="2.8"/><rect x="1881.85" y="1036.4" width="40.6" height="203" fill="#8a80c8" stroke="none" stroke-width="0"/><line x1="1883.15" y1="1201.15" x2="1921.15" y2="1201.15" stroke="rgba(255,255,255,0.16)" stroke-width="1.1" stroke-linecap="butt"/><line x1="1883.15" y1="1162.9" x2="1921.15" y2="1162.9" stroke="rgba(255,255,255,0.16)" stroke-width="1.1" stroke-linecap="butt"/><line x1="1883.15" y1="1124.65" x2="1921.15" y2="1124.65" stroke="rgba(255,255,255,0.16)" stroke-width="1.1" stroke-linecap="butt"/><line x1="1883.15" y1="1086.4" x2="1921.15" y2="1086.4" stroke="rgba(255,255,255,0.16)" stroke-width="1.1" stroke-linecap="butt"/><line x1="1883.15" y1="1048.15" x2="1921.15" y2="1048.15" stroke="rgba(255,255,255,0.16)" stroke-width="1.1" stroke-linecap="butt"/><rect x="1881.85" y="1036.4" width="40.6" height="203" fill="none" stroke="#000" stroke-width="2.8"/><line x1="1532.6" y1="943.15" x2="1532.6" y2="971.15" stroke="#000" stroke-width="2.9" stroke-linecap="butt"/><line x1="1526.8" y1="943.15" x2="1538.4" y2="943.15" stroke="#000" stroke-width="2.8" stroke-linecap="butt"/><line x1="1526.8" y1="971.15" x2="1538.4" y2="971.15" stroke="#000" stroke-width="2.8" stroke-linecap="butt"/><line x1="1648.2" y1="996" x2="1648.2" y2="1032.8" stroke="#000" stroke-width="2.9" stroke-linecap="butt"/><line x1="1642.4" y1="996" x2="1654" y2="996" stroke="#000" stroke-width="2.8" stroke-linecap="butt"/><line x1="1642.4" y1="1032.8" x2="1654" y2="1032.8" stroke="#000" stroke-width="2.8" stroke-linecap="butt"/><line x1="1740.65" y1="971.5" x2="1740.65" y2="993.5" stroke="#000" stroke-width="2.9" stroke-linecap="butt"/><line x1="1737.7" y1="971.5" x2="1743.6" y2="971.5" stroke="#000" stroke-width="2.8" stroke-linecap="butt"/><line x1="1737.7" y1="993.5" x2="1743.6" y2="993.5" stroke="#000" stroke-width="2.8" stroke-linecap="butt"/><line x1="1786.35" y1="988.9" x2="1786.35" y2="1040.5" stroke="#000" stroke-width="2.9" stroke-linecap="butt"/><line x1="1783.4" y1="988.9" x2="1789.3" y2="988.9" stroke="#000" stroke-width="2.8" stroke-linecap="butt"/><line x1="1783.4" y1="1040.5" x2="1789.3" y2="1040.5" stroke="#000" stroke-width="2.8" stroke-linecap="butt"/><line x1="1856.45" y1="1000" x2="1856.45" y2="1033" stroke="#000" stroke-width="2.9" stroke-linecap="butt"/><line x1="1853.5" y1="1000" x2="1859.4" y2="1000" stroke="#000" stroke-width="2.8" stroke-linecap="butt"/><line x1="1853.5" y1="1033" x2="1859.4" y2="1033" stroke="#000" stroke-width="2.8" stroke-linecap="butt"/><line x1="1902.15" y1="1019" x2="1902.15" y2="1053.8" stroke="#000" stroke-width="2.9" stroke-linecap="butt"/><line x1="1899.2" y1="1019" x2="1905.1" y2="1019" stroke="#000" stroke-width="2.8" stroke-linecap="butt"/><line x1="1899.2" y1="1053.8" x2="1905.1" y2="1053.8" stroke="#000" stroke-width="2.8" stroke-linecap="butt"/><circle cx="1532.6" cy="936.25" r="3.6" fill="#2f4f4f" stroke="#000" stroke-width="1.6"/><circle cx="1532.6" cy="949.5" r="3.6" fill="#2f4f4f" stroke="#000" stroke-width="1.6"/><circle cx="1532.6" cy="982.5" r="3.6" fill="#2f4f4f" stroke="#000" stroke-width="1.6"/><circle cx="1648.2" cy="983.75" r="3.6" fill="#0000cd" stroke="#000" stroke-width="1.6"/><circle cx="1648.2" cy="1008.75" r="3.6" fill="#0000cd" stroke="#000" stroke-width="1.6"/><circle cx="1648.2" cy="1047" r="3.6" fill="#0000cd" stroke="#000" stroke-width="1.6"/><circle cx="1740.65" cy="966.25" r="3.6" fill="#006400" stroke="#000" stroke-width="1.6"/><circle cx="1740.65" cy="975.5" r="3.6" fill="#006400" stroke="#000" stroke-width="1.6"/><circle cx="1740.65" cy="1002" r="3.6" fill="#006400" stroke="#000" stroke-width="1.6"/><circle cx="1786.35" cy="963" r="3.6" fill="#006400" stroke="#000" stroke-width="1.6"/><circle cx="1786.35" cy="1037" r="3.6" fill="#006400" stroke="#000" stroke-width="1.6"/><circle cx="1786.35" cy="1041.25" r="3.6" fill="#006400" stroke="#000" stroke-width="1.6"/><circle cx="1856.45" cy="982" r="3.6" fill="#1c0a96" stroke="#000" stroke-width="1.6"/><circle cx="1856.45" cy="1028" r="3.6" fill="#1c0a96" stroke="#000" stroke-width="1.6"/><circle cx="1856.45" cy="1035.6" r="3.6" fill="#1c0a96" stroke="#000" stroke-width="1.6"/><circle cx="1902.15" cy="1007.5" r="3.6" fill="#1c0a96" stroke="#000" stroke-width="1.6"/><circle cx="1902.15" cy="1030.7" r="3.6" fill="#1c0a96" stroke="#000" stroke-width="1.6"/><circle cx="1902.15" cy="1067" r="3.6" fill="#1c0a96" stroke="#000" stroke-width="1.6"/><line x1="1463.8" y1="876.25" x2="1463.8" y2="1240.8" stroke="#000" stroke-width="2.6" stroke-linecap="butt"/><line x1="1462.5" y1="1239.4" x2="1948.1" y2="1239.4" stroke="#000" stroke-width="2.8" stroke-linecap="butt"/><line x1="1456.8" y1="1239.4" x2="1463.8" y2="1239.4" stroke="#333" stroke-width="2.6" stroke-linecap="butt"/><text x="1450.9" y="1252.92" font-size="26" text-anchor="end" fill="#1a1a1a" stroke="#1a1a1a" stroke-width="0.23" >0<tspan dx="4.42">×</tspan><tspan dx="-3.9">10</tspan><tspan dx="-1.43" dy="-14.56" font-size="18.2">0</tspan></text><line x1="1456.8" y1="1162.9" x2="1463.8" y2="1162.9" stroke="#333" stroke-width="2.6" stroke-linecap="butt"/><text x="1450.9" y="1176.42" font-size="26" text-anchor="end" fill="#1a1a1a" stroke="#1a1a1a" stroke-width="0.23" >1<tspan dx="4.42">×</tspan><tspan dx="-3.9">10</tspan><tspan dx="-1.43" dy="-14.56" font-size="18.2">1</tspan></text><line x1="1456.8" y1="1086.4" x2="1463.8" y2="1086.4" stroke="#333" stroke-width="2.6" stroke-linecap="butt"/><text x="1450.9" y="1099.92" font-size="26" text-anchor="end" fill="#1a1a1a" stroke="#1a1a1a" stroke-width="0.23" >2<tspan dx="4.42">×</tspan><tspan dx="-3.9">10</tspan><tspan dx="-1.43" dy="-14.56" font-size="18.2">1</tspan></text><line x1="1456.8" y1="1009.9" x2="1463.8" y2="1009.9" stroke="#333" stroke-width="2.6" stroke-linecap="butt"/><text x="1450.9" y="1023.42" font-size="26" text-anchor="end" fill="#1a1a1a" stroke="#1a1a1a" stroke-width="0.23" >3<tspan dx="4.42">×</tspan><tspan dx="-3.9">10</tspan><tspan dx="-1.43" dy="-14.56" font-size="18.2">1</tspan></text><line x1="1456.8" y1="933.4" x2="1463.8" y2="933.4" stroke="#333" stroke-width="2.6" stroke-linecap="butt"/><text x="1450.9" y="946.92" font-size="26" text-anchor="end" fill="#1a1a1a" stroke="#1a1a1a" stroke-width="0.23" >4<tspan dx="4.42">×</tspan><tspan dx="-3.9">10</tspan><tspan dx="-1.43" dy="-14.56" font-size="18.2">1</tspan></text><line x1="1532.1" y1="1239.4" x2="1532.1" y2="1246" stroke="#333" stroke-width="2.6" stroke-linecap="butt"/><line x1="1647.8" y1="1239.4" x2="1647.8" y2="1246" stroke="#333" stroke-width="2.6" stroke-linecap="butt"/><line x1="1763.5" y1="1239.4" x2="1763.5" y2="1246" stroke="#333" stroke-width="2.6" stroke-linecap="butt"/><line x1="1879.3" y1="1239.4" x2="1879.3" y2="1246" stroke="#333" stroke-width="2.6" stroke-linecap="butt"/><text x="1478" y="861.7" font-size="44.4" text-anchor="start" fill="#000" stroke="#000" stroke-width="0.4" >TNF-<tspan font-family="'DejaVu Serif', serif" font-size="38">α</tspan></text><line x1="1718.2" y1="1313.6" x2="1806.5" y2="1313.6" stroke="#333" stroke-width="3.1" stroke-linecap="butt"/><text transform="translate(1762.4,1343.5) scale(1,1.04)" font-size="23.4" text-anchor="middle" fill="#333" stroke="#333" stroke-width="0.21" >GABA</text><line x1="1832.3" y1="1313.6" x2="1921" y2="1313.6" stroke="#333" stroke-width="3.1" stroke-linecap="butt"/><text transform="translate(1884.8,1343.5) scale(1,1.04)" font-size="23.4" text-anchor="middle" fill="#333" stroke="#333" stroke-width="0.21" >ILG/GABA</text><text transform="translate(1533.33,1278.36) rotate(-22.5)" font-size="20" text-anchor="middle" fill="#333" stroke="#333" stroke-width="0.18">LPS</text><text transform="translate(1649.53,1278.36) rotate(-22.5)" font-size="20" text-anchor="middle" fill="#333" stroke="#333" stroke-width="0.18">ILG</text><text transform="translate(1738.13,1278.36) rotate(-22.5)" font-size="20" text-anchor="middle" fill="#333" stroke="#333" stroke-width="0.18">1µM</text><text transform="translate(1785.63,1278.36) rotate(-22.5)" font-size="20" text-anchor="middle" fill="#333" stroke="#333" stroke-width="0.18">10µM</text><text transform="translate(1857.43,1278.36) rotate(-22.5)" font-size="20" text-anchor="middle" fill="#333" stroke="#333" stroke-width="0.18">1µM</text><text transform="translate(1904.93,1278.36) rotate(-22.5)" font-size="20" text-anchor="middle" fill="#333" stroke="#333" stroke-width="0.18">10µM</text><text transform="translate(113,1098.3) rotate(-90)" fill="#111" stroke="#111" stroke-width="0.3"><tspan x="-2.4" y="0" font-size="47.7">2</tspan><tspan x="22.9" y="-23.5" font-size="32">−</tspan><tspan x="42.6" y="-26.2" font-size="30.9">Δ</tspan><tspan x="61.6" y="-26.2" font-size="30.9">Δ</tspan><tspan x="80.9" y="-26.2" font-size="32">C</tspan><tspan x="104.2" y="-26.2" font-size="32">t</tspan></text></svg></body></html>
